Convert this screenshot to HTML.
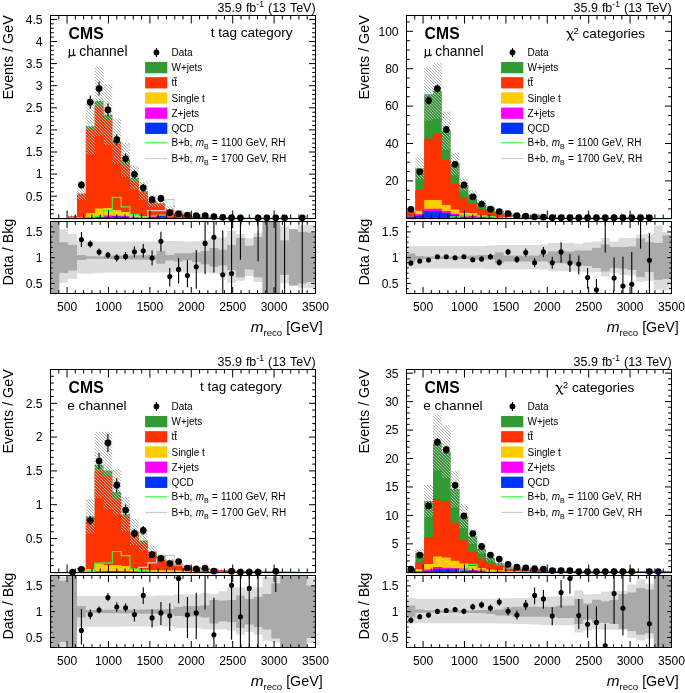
<!DOCTYPE html><html><head><meta charset="utf-8"><style>html,body{margin:0;padding:0;background:#fff;width:685px;height:693px;overflow:hidden}svg{display:block;will-change:transform}</style></head><body>
<svg width="685" height="693" viewBox="0 0 685 693">
<defs><pattern id="hatch" patternUnits="userSpaceOnUse" x="0" y="0" width="3" height="3"><rect x="0" y="0" width="1" height="1" fill="#b4b4b4"/><rect x="1" y="1" width="1" height="1" fill="#b4b4b4"/><rect x="2" y="2" width="1" height="1" fill="#b4b4b4"/></pattern><clipPath id="clipR"><rect x="50.5" y="221.5" width="265" height="72"/></clipPath></defs>
<rect width="685" height="693" fill="#fff"/>
<g transform="translate(0,0)">
<path d="M50.5,218.3 L50.5,218.3 L59.33,218.3 L59.33,218.3 L68.17,218.3 L68.17,216.3 L77,216.3 L77,193.6 L85.83,193.6 L85.83,126.3 L94.67,126.3 L94.67,101.1 L103.5,101.1 L103.5,114.7 L112.33,114.7 L112.33,141 L121.17,141 L121.17,159.9 L130,159.9 L130,177.7 L138.83,177.7 L138.83,190.9 L147.67,190.9 L147.67,201 L156.5,201 L156.5,203.2 L165.33,203.2 L165.33,209.5 L174.17,209.5 L174.17,212.6 L183,212.6 L183,214.7 L191.83,214.7 L191.83,215.9 L200.67,215.9 L200.67,216.7 L209.5,216.7 L209.5,217.1 L218.33,217.1 L218.33,217.4 L227.17,217.4 L227.17,217.6 L236,217.6 L236,217.7 L244.83,217.7 L244.83,217.8 L253.67,217.8 L253.67,217.8 L262.5,217.8 L262.5,217.9 L271.33,217.9 L271.33,217.9 L280.17,217.9 L280.17,217.9 L289,217.9 L289,218.3 L297.83,218.3 L297.83,217.9 L306.67,217.9 L306.67,218.3 L315.5,218.3 L315.5,218.3" fill="#339933"/>
<path d="M50.5,218.3 L50.5,218.3 L59.33,218.3 L59.33,218.3 L68.17,218.3 L68.17,216.3 L77,216.3 L77,194.1 L85.83,194.1 L85.83,130 L94.67,130 L94.67,106.3 L103.5,106.3 L103.5,119 L112.33,119 L112.33,143.4 L121.17,143.4 L121.17,164.7 L130,164.7 L130,181.2 L138.83,181.2 L138.83,192.3 L147.67,192.3 L147.67,201.9 L156.5,201.9 L156.5,204.1 L165.33,204.1 L165.33,209.8 L174.17,209.8 L174.17,212.8 L183,212.8 L183,214.8 L191.83,214.8 L191.83,216 L200.67,216 L200.67,216.8 L209.5,216.8 L209.5,217.2 L218.33,217.2 L218.33,217.5 L227.17,217.5 L227.17,217.7 L236,217.7 L236,217.8 L244.83,217.8 L244.83,217.9 L253.67,217.9 L253.67,217.9 L262.5,217.9 L262.5,218 L271.33,218 L271.33,218 L280.17,218 L280.17,218 L289,218 L289,218.3 L297.83,218.3 L297.83,218 L306.67,218 L306.67,218.3 L315.5,218.3 L315.5,218.3" fill="#ff3300"/>
<path d="M50.5,218.3 L50.5,218.3 L59.33,218.3 L59.33,218.3 L68.17,218.3 L68.17,217.8 L77,217.8 L77,217.6 L85.83,217.6 L85.83,213 L94.67,213 L94.67,208.4 L103.5,208.4 L103.5,207.9 L112.33,207.9 L112.33,209.9 L121.17,209.9 L121.17,212 L130,212 L130,214.5 L138.83,214.5 L138.83,216.1 L147.67,216.1 L147.67,215.5 L156.5,215.5 L156.5,214.6 L165.33,214.6 L165.33,216.8 L174.17,216.8 L174.17,217.3 L183,217.3 L183,217.7 L191.83,217.7 L191.83,217.9 L200.67,217.9 L200.67,218 L209.5,218 L209.5,218 L218.33,218 L218.33,218.1 L227.17,218.1 L227.17,218.1 L236,218.1 L236,218.2 L244.83,218.2 L244.83,218.2 L253.67,218.2 L253.67,218.2 L262.5,218.2 L262.5,218.3 L271.33,218.3 L271.33,218.3 L280.17,218.3 L280.17,218.3 L289,218.3 L289,218.3 L297.83,218.3 L297.83,218.3 L306.67,218.3 L306.67,218.3 L315.5,218.3 L315.5,218.3" fill="#ffcc00"/>
<path d="M50.5,218.3 L50.5,218.3 L59.33,218.3 L59.33,218.3 L68.17,218.3 L68.17,218.3 L77,218.3 L77,217.9 L85.83,217.9 L85.83,217.5 L94.67,217.5 L94.67,216.1 L103.5,216.1 L103.5,215.5 L112.33,215.5 L112.33,215.8 L121.17,215.8 L121.17,216.2 L130,216.2 L130,216.5 L138.83,216.5 L138.83,216.9 L147.67,216.9 L147.67,216.5 L156.5,216.5 L156.5,215.5 L165.33,215.5 L165.33,217.3 L174.17,217.3 L174.17,217.6 L183,217.6 L183,217.9 L191.83,217.9 L191.83,218 L200.67,218 L200.67,218.1 L209.5,218.1 L209.5,218.1 L218.33,218.1 L218.33,218.2 L227.17,218.2 L227.17,218.2 L236,218.2 L236,218.3 L244.83,218.3 L244.83,218.3 L253.67,218.3 L253.67,218.3 L262.5,218.3 L262.5,218.3 L271.33,218.3 L271.33,218.3 L280.17,218.3 L280.17,218.3 L289,218.3 L289,218.3 L297.83,218.3 L297.83,218.3 L306.67,218.3 L306.67,218.3 L315.5,218.3 L315.5,218.3" fill="#ff00ff"/>
<path d="M50.5,218.3 L50.5,218.3 L59.33,218.3 L59.33,218.3 L68.17,218.3 L68.17,218.3 L77,218.3 L77,218 L85.83,218 L85.83,217.8 L94.67,217.8 L94.67,217.6 L103.5,217.6 L103.5,217 L112.33,217 L112.33,216.5 L121.17,216.5 L121.17,216.8 L130,216.8 L130,217 L138.83,217 L138.83,217.3 L147.67,217.3 L147.67,217.2 L156.5,217.2 L156.5,215.9 L165.33,215.9 L165.33,217.5 L174.17,217.5 L174.17,217.8 L183,217.8 L183,218 L191.83,218 L191.83,218.1 L200.67,218.1 L200.67,218.2 L209.5,218.2 L209.5,218.2 L218.33,218.2 L218.33,218.3 L227.17,218.3 L227.17,218.3 L236,218.3 L236,218.3 L244.83,218.3 L244.83,218.3 L253.67,218.3 L253.67,218.3 L262.5,218.3 L262.5,218.3 L271.33,218.3 L271.33,218.3 L280.17,218.3 L280.17,218.3 L289,218.3 L289,218.3 L297.83,218.3 L297.83,218.3 L306.67,218.3 L306.67,218.3 L315.5,218.3 L315.5,218.3" fill="#0033ff"/>
<rect x="68.17" y="214.8" width="8.83" height="3" fill="url(#hatch)"/>
<rect x="77" y="187.3" width="8.83" height="12.6" fill="url(#hatch)"/>
<rect x="85.83" y="98.1" width="8.83" height="56.4" fill="url(#hatch)"/>
<rect x="94.67" y="66.4" width="8.83" height="69.4" fill="url(#hatch)"/>
<rect x="103.5" y="84.2" width="8.83" height="61" fill="url(#hatch)"/>
<rect x="112.33" y="118.4" width="8.83" height="45.2" fill="url(#hatch)"/>
<rect x="121.17" y="143" width="8.83" height="33.8" fill="url(#hatch)"/>
<rect x="130" y="166" width="8.83" height="23.4" fill="url(#hatch)"/>
<rect x="138.83" y="181.9" width="8.83" height="18" fill="url(#hatch)"/>
<rect x="147.67" y="195" width="8.83" height="12" fill="url(#hatch)"/>
<rect x="156.5" y="199.7" width="8.83" height="7" fill="url(#hatch)"/>
<rect x="165.33" y="206" width="8.83" height="7" fill="url(#hatch)"/>
<rect x="174.17" y="210.1" width="8.83" height="5" fill="url(#hatch)"/>
<rect x="183" y="212.7" width="8.83" height="4" fill="url(#hatch)"/>
<rect x="191.83" y="214.4" width="8.83" height="3" fill="url(#hatch)"/>
<rect x="200.67" y="215.5" width="8.83" height="2.4" fill="url(#hatch)"/>
<rect x="209.5" y="216.1" width="8.83" height="2" fill="url(#hatch)"/>
<rect x="218.33" y="216.4" width="8.83" height="1.9" fill="url(#hatch)"/>
<rect x="227.17" y="216.8" width="8.83" height="1.5" fill="url(#hatch)"/>
<rect x="236" y="216.9" width="8.83" height="1.4" fill="url(#hatch)"/>
<rect x="244.83" y="217" width="8.83" height="1.3" fill="url(#hatch)"/>
<rect x="253.67" y="217" width="8.83" height="1.3" fill="url(#hatch)"/>
<rect x="262.5" y="217.1" width="8.83" height="1.2" fill="url(#hatch)"/>
<rect x="271.33" y="217.1" width="8.83" height="1.2" fill="url(#hatch)"/>
<rect x="280.17" y="217.1" width="8.83" height="1.2" fill="url(#hatch)"/>
<rect x="297.83" y="217.1" width="8.83" height="1.2" fill="url(#hatch)"/>
<path d="M50.5,218.3 L50.5,218.6 L59.33,218.6 L59.33,218.6 L68.17,218.6 L68.17,218.6 L77,218.6 L77,218.6 L85.83,218.6 L85.83,218.6 L94.67,218.6 L94.67,218.6 L103.5,218.6 L103.5,218.6 L112.33,218.6 L112.33,218.6 L121.17,218.6 L121.17,218.6 L130,218.6 L130,216.8 L138.83,216.8 L138.83,216.8 L147.67,216.8 L147.67,210.6 L156.5,210.6 L156.5,210.6 L165.33,210.6 L165.33,199.7 L174.17,199.7 L174.17,210.6 L183,210.6 L183,212.8 L191.83,212.8 L191.83,214.5 L200.67,214.5 L200.67,216 L209.5,216 L209.5,217 L218.33,217 L218.33,218.6 L227.17,218.6 L227.17,218.6 L236,218.6 L236,218.6 L244.83,218.6 L244.83,218.6 L253.67,218.6 L253.67,218.6 L262.5,218.6 L262.5,218.6 L271.33,218.6 L271.33,218.6 L280.17,218.6 L280.17,218.6 L289,218.6 L289,218.6 L297.83,218.6 L297.83,218.6 L306.67,218.6 L306.67,218.6 L315.5,218.6 L315.5,218.3" fill="none" stroke="#cccccc" stroke-width="1.2"/>
<path d="M50.5,218.3 L50.5,218.6 L59.33,218.6 L59.33,218.6 L68.17,218.6 L68.17,218.6 L77,218.6 L77,218.6 L85.83,218.6 L85.83,218.6 L94.67,218.6 L94.67,216.4 L103.5,216.4 L103.5,210.4 L112.33,210.4 L112.33,197.4 L121.17,197.4 L121.17,206.9 L130,206.9 L130,214.5 L138.83,214.5 L138.83,217.1 L147.67,217.1 L147.67,218.6 L156.5,218.6 L156.5,218.6 L165.33,218.6 L165.33,218.6 L174.17,218.6 L174.17,218.6 L183,218.6 L183,218.6 L191.83,218.6 L191.83,218.6 L200.67,218.6 L200.67,218.6 L209.5,218.6 L209.5,218.6 L218.33,218.6 L218.33,218.6 L227.17,218.6 L227.17,218.6 L236,218.6 L236,218.6 L244.83,218.6 L244.83,218.6 L253.67,218.6 L253.67,218.6 L262.5,218.6 L262.5,218.6 L271.33,218.6 L271.33,218.6 L280.17,218.6 L280.17,218.6 L289,218.6 L289,218.6 L297.83,218.6 L297.83,218.6 L306.67,218.6 L306.67,218.6 L315.5,218.6 L315.5,218.3" fill="none" stroke="#33ff33" stroke-width="1.2"/>
<line x1="81.42" y1="181.3" x2="81.42" y2="188.5" stroke="#000" stroke-width="1.1"/>
<circle cx="81.42" cy="184.9" r="3.35" fill="#000"/>
<line x1="90.25" y1="95.5" x2="90.25" y2="108.9" stroke="#000" stroke-width="1.1"/>
<circle cx="90.25" cy="102.2" r="3.35" fill="#000"/>
<line x1="99.08" y1="81.5" x2="99.08" y2="95.5" stroke="#000" stroke-width="1.1"/>
<circle cx="99.08" cy="88.5" r="3.35" fill="#000"/>
<line x1="107.92" y1="103.6" x2="107.92" y2="116.2" stroke="#000" stroke-width="1.1"/>
<circle cx="107.92" cy="109.9" r="3.35" fill="#000"/>
<line x1="116.75" y1="134.2" x2="116.75" y2="145.2" stroke="#000" stroke-width="1.1"/>
<circle cx="116.75" cy="139.7" r="3.35" fill="#000"/>
<line x1="125.58" y1="153.6" x2="125.58" y2="163.6" stroke="#000" stroke-width="1.1"/>
<circle cx="125.58" cy="158.6" r="3.35" fill="#000"/>
<line x1="134.42" y1="169.8" x2="134.42" y2="178.8" stroke="#000" stroke-width="1.1"/>
<circle cx="134.42" cy="174.3" r="3.35" fill="#000"/>
<line x1="143.25" y1="183.8" x2="143.25" y2="191.8" stroke="#000" stroke-width="1.1"/>
<circle cx="143.25" cy="187.8" r="3.35" fill="#000"/>
<line x1="152.08" y1="196.1" x2="152.08" y2="203.3" stroke="#000" stroke-width="1.1"/>
<circle cx="152.08" cy="199.7" r="3.35" fill="#000"/>
<line x1="160.92" y1="194.8" x2="160.92" y2="202" stroke="#000" stroke-width="1.1"/>
<circle cx="160.92" cy="198.4" r="3.35" fill="#000"/>
<circle cx="169.75" cy="212.6" r="3.35" fill="#000"/>
<circle cx="178.58" cy="213.9" r="3.35" fill="#000"/>
<circle cx="187.42" cy="215.2" r="3.35" fill="#000"/>
<circle cx="196.25" cy="215.7" r="3.35" fill="#000"/>
<circle cx="205.08" cy="215.5" r="3.35" fill="#000"/>
<circle cx="213.92" cy="216.5" r="3.35" fill="#000"/>
<circle cx="222.75" cy="217.3" r="3.35" fill="#000"/>
<circle cx="231.58" cy="217.7" r="3.35" fill="#000"/>
<circle cx="240.42" cy="217.8" r="3.35" fill="#000"/>
<circle cx="258.08" cy="217.8" r="3.35" fill="#000"/>
<circle cx="266.92" cy="217.8" r="3.35" fill="#000"/>
<circle cx="275.75" cy="217.8" r="3.35" fill="#000"/>
<circle cx="284.58" cy="217.8" r="3.35" fill="#000"/>
<circle cx="302.25" cy="217.8" r="3.35" fill="#000"/>
<g clip-path="url(#clipR)">
<path d="M50.5,221.5 L59.33,221.5 L59.33,229.2 L68.17,229.2 L68.17,234.1 L77,234.1 L77,241.1 L85.83,241.1 L85.83,241.1 L94.67,241.1 L94.67,241.5 L103.5,241.5 L103.5,241.6 L112.33,241.6 L112.33,241.6 L121.17,241.6 L121.17,241.6 L130,241.6 L130,241.6 L138.83,241.6 L138.83,241.6 L147.67,241.6 L147.67,241.6 L156.5,241.6 L156.5,241 L165.33,241 L165.33,241 L174.17,241 L174.17,241 L183,241 L183,241.6 L191.83,241.6 L191.83,241.3 L200.67,241.3 L200.67,239.9 L209.5,239.9 L209.5,237.5 L218.33,237.5 L218.33,237.5 L227.17,237.5 L227.17,231.1 L236,231.1 L236,234 L244.83,234 L244.83,238.1 L253.67,238.1 L253.67,232.8 L262.5,232.8 L262.5,221.5 L271.33,221.5 L271.33,221.5 L280.17,221.5 L280.17,227 L289,227 L289,229.3 L297.83,229.3 L297.83,225.3 L306.67,225.3 L306.67,225.3 L315.5,225.3 L315.5,288.3 L306.67,288.3 L306.67,287.7 L297.83,287.7 L297.83,285.4 L289,285.4 L289,283.6 L280.17,283.6 L280.17,293.5 L271.33,293.5 L271.33,293.5 L262.5,293.5 L262.5,282 L253.67,282 L253.67,276 L244.83,276 L244.83,280.7 L236,280.7 L236,283.1 L227.17,283.1 L227.17,274.9 L218.33,274.9 L218.33,273.5 L209.5,273.5 L209.5,272.6 L200.67,272.6 L200.67,273 L191.83,273 L191.83,272.6 L183,272.6 L183,272.6 L174.17,272.6 L174.17,272.6 L165.33,272.6 L165.33,272.6 L156.5,272.6 L156.5,272.6 L147.67,272.6 L147.67,272.6 L138.83,272.6 L138.83,272.6 L130,272.6 L130,272.6 L121.17,272.6 L121.17,272.6 L112.33,272.6 L112.33,272.6 L103.5,272.6 L103.5,273.1 L94.67,273.1 L94.67,273.6 L85.83,273.6 L85.83,273.6 L77,273.6 L77,279 L68.17,279 L68.17,282.8 L59.33,282.8 L59.33,293.5 L50.5,293.5 Z" fill="#dcdcdc"/>
<path d="M50.5,221.5 L59.33,221.5 L59.33,242.2 L68.17,242.2 L68.17,244.9 L77,244.9 L77,254.9 L85.83,254.9 L85.83,256.3 L94.67,256.3 L94.67,256.5 L103.5,256.5 L103.5,255.8 L112.33,255.8 L112.33,255.6 L121.17,255.6 L121.17,255.6 L130,255.6 L130,255.3 L138.83,255.3 L138.83,255.2 L147.67,255.2 L147.67,255 L156.5,255 L156.5,251 L165.33,251 L165.33,255 L174.17,255 L174.17,253.3 L183,253.3 L183,253.3 L191.83,253.3 L191.83,252.5 L200.67,252.5 L200.67,251 L209.5,251 L209.5,248 L218.33,248 L218.33,249.8 L227.17,249.8 L227.17,245.1 L236,245.1 L236,238.1 L244.83,238.1 L244.83,245.7 L253.67,245.7 L253.67,237 L262.5,237 L262.5,221.5 L271.33,221.5 L271.33,221.5 L280.17,221.5 L280.17,240.4 L289,240.4 L289,229.3 L297.83,229.3 L297.83,231.7 L306.67,231.7 L306.67,232.8 L315.5,232.8 L315.5,281.9 L306.67,281.9 L306.67,283.6 L297.83,283.6 L297.83,285.4 L289,285.4 L289,274.9 L280.17,274.9 L280.17,293.5 L271.33,293.5 L271.33,293.5 L262.5,293.5 L262.5,277.2 L253.67,277.2 L253.67,269.6 L244.83,269.6 L244.83,277.2 L236,277.2 L236,270.2 L227.17,270.2 L227.17,265.5 L218.33,265.5 L218.33,266.7 L209.5,266.7 L209.5,264.4 L200.67,264.4 L200.67,262 L191.83,262 L191.83,260.3 L183,260.3 L183,261.5 L174.17,261.5 L174.17,260.5 L165.33,260.5 L165.33,263.8 L156.5,263.8 L156.5,260 L147.67,260 L147.67,259.8 L138.83,259.8 L138.83,259.5 L130,259.5 L130,259.3 L121.17,259.3 L121.17,259.1 L112.33,259.1 L112.33,259.1 L103.5,259.1 L103.5,258.8 L94.67,258.8 L94.67,258.8 L85.83,258.8 L85.83,259.9 L77,259.9 L77,270.4 L68.17,270.4 L68.17,273.1 L59.33,273.1 L59.33,293.5 L50.5,293.5 Z" fill="#aaaaaa"/>
<line x1="81.42" y1="231.9" x2="81.42" y2="247.1" stroke="#000" stroke-width="1.1"/>
<circle cx="81.42" cy="239.5" r="2.55" fill="#000"/>
<line x1="90.25" y1="240.6" x2="90.25" y2="247.6" stroke="#000" stroke-width="1.1"/>
<circle cx="90.25" cy="244" r="2.55" fill="#000"/>
<line x1="99.08" y1="248.5" x2="99.08" y2="255.5" stroke="#000" stroke-width="1.1"/>
<circle cx="99.08" cy="252" r="2.55" fill="#000"/>
<line x1="107.92" y1="251.8" x2="107.92" y2="258.2" stroke="#000" stroke-width="1.1"/>
<circle cx="107.92" cy="255" r="2.55" fill="#000"/>
<line x1="116.75" y1="253.9" x2="116.75" y2="261.5" stroke="#000" stroke-width="1.1"/>
<circle cx="116.75" cy="257.6" r="2.55" fill="#000"/>
<line x1="125.58" y1="252.1" x2="125.58" y2="260.3" stroke="#000" stroke-width="1.1"/>
<circle cx="125.58" cy="256.4" r="2.55" fill="#000"/>
<line x1="134.42" y1="246.3" x2="134.42" y2="257.4" stroke="#000" stroke-width="1.1"/>
<circle cx="134.42" cy="251.8" r="2.55" fill="#000"/>
<line x1="143.25" y1="243.9" x2="143.25" y2="257.4" stroke="#000" stroke-width="1.1"/>
<circle cx="143.25" cy="250.7" r="2.55" fill="#000"/>
<line x1="152.08" y1="250.6" x2="152.08" y2="265.5" stroke="#000" stroke-width="1.1"/>
<circle cx="152.08" cy="258" r="2.55" fill="#000"/>
<line x1="160.92" y1="231.7" x2="160.92" y2="251.5" stroke="#000" stroke-width="1.1"/>
<circle cx="160.92" cy="241.3" r="2.55" fill="#000"/>
<line x1="169.75" y1="267.9" x2="169.75" y2="286.6" stroke="#000" stroke-width="1.1"/>
<circle cx="169.75" cy="276.6" r="2.55" fill="#000"/>
<line x1="178.58" y1="258" x2="178.58" y2="283.6" stroke="#000" stroke-width="1.1"/>
<circle cx="178.58" cy="269.4" r="2.55" fill="#000"/>
<line x1="187.42" y1="259.7" x2="187.42" y2="287.2" stroke="#000" stroke-width="1.1"/>
<circle cx="187.42" cy="275.5" r="2.55" fill="#000"/>
<line x1="196.25" y1="250.1" x2="196.25" y2="288.7" stroke="#000" stroke-width="1.1"/>
<circle cx="196.25" cy="266.7" r="2.55" fill="#000"/>
<line x1="205.08" y1="221.5" x2="205.08" y2="274.3" stroke="#000" stroke-width="1.1"/>
<circle cx="205.08" cy="243.4" r="2.55" fill="#000"/>
<line x1="213.92" y1="221.5" x2="213.92" y2="272.6" stroke="#000" stroke-width="1.1"/>
<circle cx="213.92" cy="237.3" r="2.55" fill="#000"/>
<line x1="222.75" y1="230.5" x2="222.75" y2="293.5" stroke="#000" stroke-width="1.1"/>
<circle cx="222.75" cy="274.7" r="2.55" fill="#000"/>
<line x1="231.58" y1="221.5" x2="231.58" y2="293.5" stroke="#000" stroke-width="1.1"/>
<circle cx="231.58" cy="273.5" r="2.55" fill="#000"/>
<line x1="240.42" y1="221.5" x2="240.42" y2="259.7" stroke="#000" stroke-width="1.1"/>
<line x1="258.08" y1="221.5" x2="258.08" y2="261.5" stroke="#000" stroke-width="1.1"/>
<line x1="266.92" y1="221.5" x2="266.92" y2="293.5" stroke="#000" stroke-width="1.1"/>
<line x1="275.75" y1="221.5" x2="275.75" y2="293.5" stroke="#000" stroke-width="1.1"/>
<line x1="284.58" y1="221.5" x2="284.58" y2="293.5" stroke="#000" stroke-width="1.1"/>
<line x1="302.25" y1="221.5" x2="302.25" y2="293.5" stroke="#000" stroke-width="1.1"/>
</g>
<rect x="50.5" y="15.5" width="265" height="203" stroke="#000" stroke-width="1" fill="none"/>
<rect x="50.5" y="221.5" width="265" height="72" stroke="#000" stroke-width="1" fill="none"/>
<path d="M58.78,218.5 v-4 M58.78,15.5 v4 M58.78,293.5 v-3.3 M58.78,221.5 v3.3 M67.06,218.5 v-8 M67.06,15.5 v8 M67.06,293.5 v-6.5 M67.06,221.5 v6.5 M75.34,218.5 v-4 M75.34,15.5 v4 M75.34,293.5 v-3.3 M75.34,221.5 v3.3 M83.62,218.5 v-4 M83.62,15.5 v4 M83.62,293.5 v-3.3 M83.62,221.5 v3.3 M91.91,218.5 v-4 M91.91,15.5 v4 M91.91,293.5 v-3.3 M91.91,221.5 v3.3 M100.19,218.5 v-4 M100.19,15.5 v4 M100.19,293.5 v-3.3 M100.19,221.5 v3.3 M108.47,218.5 v-8 M108.47,15.5 v8 M108.47,293.5 v-6.5 M108.47,221.5 v6.5 M116.75,218.5 v-4 M116.75,15.5 v4 M116.75,293.5 v-3.3 M116.75,221.5 v3.3 M125.03,218.5 v-4 M125.03,15.5 v4 M125.03,293.5 v-3.3 M125.03,221.5 v3.3 M133.31,218.5 v-4 M133.31,15.5 v4 M133.31,293.5 v-3.3 M133.31,221.5 v3.3 M141.59,218.5 v-4 M141.59,15.5 v4 M141.59,293.5 v-3.3 M141.59,221.5 v3.3 M149.88,218.5 v-8 M149.88,15.5 v8 M149.88,293.5 v-6.5 M149.88,221.5 v6.5 M158.16,218.5 v-4 M158.16,15.5 v4 M158.16,293.5 v-3.3 M158.16,221.5 v3.3 M166.44,218.5 v-4 M166.44,15.5 v4 M166.44,293.5 v-3.3 M166.44,221.5 v3.3 M174.72,218.5 v-4 M174.72,15.5 v4 M174.72,293.5 v-3.3 M174.72,221.5 v3.3 M183,218.5 v-4 M183,15.5 v4 M183,293.5 v-3.3 M183,221.5 v3.3 M191.28,218.5 v-8 M191.28,15.5 v8 M191.28,293.5 v-6.5 M191.28,221.5 v6.5 M199.56,218.5 v-4 M199.56,15.5 v4 M199.56,293.5 v-3.3 M199.56,221.5 v3.3 M207.84,218.5 v-4 M207.84,15.5 v4 M207.84,293.5 v-3.3 M207.84,221.5 v3.3 M216.12,218.5 v-4 M216.12,15.5 v4 M216.12,293.5 v-3.3 M216.12,221.5 v3.3 M224.41,218.5 v-4 M224.41,15.5 v4 M224.41,293.5 v-3.3 M224.41,221.5 v3.3 M232.69,218.5 v-8 M232.69,15.5 v8 M232.69,293.5 v-6.5 M232.69,221.5 v6.5 M240.97,218.5 v-4 M240.97,15.5 v4 M240.97,293.5 v-3.3 M240.97,221.5 v3.3 M249.25,218.5 v-4 M249.25,15.5 v4 M249.25,293.5 v-3.3 M249.25,221.5 v3.3 M257.53,218.5 v-4 M257.53,15.5 v4 M257.53,293.5 v-3.3 M257.53,221.5 v3.3 M265.81,218.5 v-4 M265.81,15.5 v4 M265.81,293.5 v-3.3 M265.81,221.5 v3.3 M274.09,218.5 v-8 M274.09,15.5 v8 M274.09,293.5 v-6.5 M274.09,221.5 v6.5 M282.38,218.5 v-4 M282.38,15.5 v4 M282.38,293.5 v-3.3 M282.38,221.5 v3.3 M290.66,218.5 v-4 M290.66,15.5 v4 M290.66,293.5 v-3.3 M290.66,221.5 v3.3 M298.94,218.5 v-4 M298.94,15.5 v4 M298.94,293.5 v-3.3 M298.94,221.5 v3.3 M307.22,218.5 v-4 M307.22,15.5 v4 M307.22,293.5 v-3.3 M307.22,221.5 v3.3 M50.5,213.88 h3.3 M315.5,213.88 h-3.3 M50.5,209.46 h3.3 M315.5,209.46 h-3.3 M50.5,205.04 h3.3 M315.5,205.04 h-3.3 M50.5,200.62 h3.3 M315.5,200.62 h-3.3 M50.5,196.2 h6.5 M315.5,196.2 h-6.5 M50.5,191.78 h3.3 M315.5,191.78 h-3.3 M50.5,187.36 h3.3 M315.5,187.36 h-3.3 M50.5,182.94 h3.3 M315.5,182.94 h-3.3 M50.5,178.52 h3.3 M315.5,178.52 h-3.3 M50.5,174.1 h6.5 M315.5,174.1 h-6.5 M50.5,169.68 h3.3 M315.5,169.68 h-3.3 M50.5,165.26 h3.3 M315.5,165.26 h-3.3 M50.5,160.84 h3.3 M315.5,160.84 h-3.3 M50.5,156.42 h3.3 M315.5,156.42 h-3.3 M50.5,152 h6.5 M315.5,152 h-6.5 M50.5,147.58 h3.3 M315.5,147.58 h-3.3 M50.5,143.16 h3.3 M315.5,143.16 h-3.3 M50.5,138.74 h3.3 M315.5,138.74 h-3.3 M50.5,134.32 h3.3 M315.5,134.32 h-3.3 M50.5,129.9 h6.5 M315.5,129.9 h-6.5 M50.5,125.48 h3.3 M315.5,125.48 h-3.3 M50.5,121.06 h3.3 M315.5,121.06 h-3.3 M50.5,116.64 h3.3 M315.5,116.64 h-3.3 M50.5,112.22 h3.3 M315.5,112.22 h-3.3 M50.5,107.8 h6.5 M315.5,107.8 h-6.5 M50.5,103.38 h3.3 M315.5,103.38 h-3.3 M50.5,98.96 h3.3 M315.5,98.96 h-3.3 M50.5,94.54 h3.3 M315.5,94.54 h-3.3 M50.5,90.12 h3.3 M315.5,90.12 h-3.3 M50.5,85.7 h6.5 M315.5,85.7 h-6.5 M50.5,81.28 h3.3 M315.5,81.28 h-3.3 M50.5,76.86 h3.3 M315.5,76.86 h-3.3 M50.5,72.44 h3.3 M315.5,72.44 h-3.3 M50.5,68.02 h3.3 M315.5,68.02 h-3.3 M50.5,63.6 h6.5 M315.5,63.6 h-6.5 M50.5,59.18 h3.3 M315.5,59.18 h-3.3 M50.5,54.76 h3.3 M315.5,54.76 h-3.3 M50.5,50.34 h3.3 M315.5,50.34 h-3.3 M50.5,45.92 h3.3 M315.5,45.92 h-3.3 M50.5,41.5 h6.5 M315.5,41.5 h-6.5 M50.5,37.08 h3.3 M315.5,37.08 h-3.3 M50.5,32.66 h3.3 M315.5,32.66 h-3.3 M50.5,28.24 h3.3 M315.5,28.24 h-3.3 M50.5,23.82 h3.3 M315.5,23.82 h-3.3 M50.5,19.4 h6.5 M315.5,19.4 h-6.5 M50.5,288.55 h2.2 M315.5,288.55 h-2.2 M50.5,283.4 h4.3 M315.5,283.4 h-4.3 M50.5,278.25 h2.2 M315.5,278.25 h-2.2 M50.5,273.1 h2.2 M315.5,273.1 h-2.2 M50.5,267.95 h2.2 M315.5,267.95 h-2.2 M50.5,262.8 h2.2 M315.5,262.8 h-2.2 M50.5,257.65 h4.3 M315.5,257.65 h-4.3 M50.5,252.5 h2.2 M315.5,252.5 h-2.2 M50.5,247.35 h2.2 M315.5,247.35 h-2.2 M50.5,242.2 h2.2 M315.5,242.2 h-2.2 M50.5,237.05 h2.2 M315.5,237.05 h-2.2 M50.5,231.9 h4.3 M315.5,231.9 h-4.3 M50.5,226.75 h2.2 M315.5,226.75 h-2.2" stroke="#000" stroke-width="1" fill="none"/>
<text x="67.06" y="311" font-size="12.1" text-anchor="middle" font-family="Liberation Sans, sans-serif">500</text>
<text x="108.47" y="311" font-size="12.1" text-anchor="middle" font-family="Liberation Sans, sans-serif">1000</text>
<text x="149.88" y="311" font-size="12.1" text-anchor="middle" font-family="Liberation Sans, sans-serif">1500</text>
<text x="191.28" y="311" font-size="12.1" text-anchor="middle" font-family="Liberation Sans, sans-serif">2000</text>
<text x="232.69" y="311" font-size="12.1" text-anchor="middle" font-family="Liberation Sans, sans-serif">2500</text>
<text x="274.09" y="311" font-size="12.1" text-anchor="middle" font-family="Liberation Sans, sans-serif">3000</text>
<text x="315.5" y="311" font-size="12.1" text-anchor="middle" font-family="Liberation Sans, sans-serif">3500</text>
<text x="42.6" y="200.55" font-size="12.1" text-anchor="end" font-family="Liberation Sans, sans-serif">0.5</text>
<text x="42.6" y="178.45" font-size="12.1" text-anchor="end" font-family="Liberation Sans, sans-serif">1</text>
<text x="42.6" y="156.35" font-size="12.1" text-anchor="end" font-family="Liberation Sans, sans-serif">1.5</text>
<text x="42.6" y="134.25" font-size="12.1" text-anchor="end" font-family="Liberation Sans, sans-serif">2</text>
<text x="42.6" y="112.15" font-size="12.1" text-anchor="end" font-family="Liberation Sans, sans-serif">2.5</text>
<text x="42.6" y="90.05" font-size="12.1" text-anchor="end" font-family="Liberation Sans, sans-serif">3</text>
<text x="42.6" y="67.95" font-size="12.1" text-anchor="end" font-family="Liberation Sans, sans-serif">3.5</text>
<text x="42.6" y="45.85" font-size="12.1" text-anchor="end" font-family="Liberation Sans, sans-serif">4</text>
<text x="42.6" y="23.75" font-size="12.1" text-anchor="end" font-family="Liberation Sans, sans-serif">4.5</text>
<text x="42.6" y="287.75" font-size="12.1" text-anchor="end" font-family="Liberation Sans, sans-serif">0.5</text>
<text x="42.6" y="262" font-size="12.1" text-anchor="end" font-family="Liberation Sans, sans-serif">1</text>
<text x="42.6" y="236.25" font-size="12.1" text-anchor="end" font-family="Liberation Sans, sans-serif">1.5</text>
<text transform="translate(13,15.3) rotate(-90)" font-size="14.3" text-anchor="end" font-family="Liberation Sans, sans-serif">Events / GeV</text>
<text transform="translate(13,218.7) rotate(-90)" font-size="14.3" text-anchor="end" font-family="Liberation Sans, sans-serif">Data / Bkg</text>
<text x="322.7" y="332" font-size="14.3" text-anchor="end" font-family="Liberation Sans, sans-serif"><tspan font-style="italic" font-size="15.4">m</tspan><tspan font-size="9.6" dy="3.5">reco</tspan><tspan dy="-3.5"> [GeV]</tspan></text>
<text x="315.6" y="12.1" font-size="12.5" word-spacing="0.6" text-anchor="end" font-family="Liberation Sans, sans-serif">35.9 fb<tspan font-size="8.5" dy="-4.8">-1</tspan><tspan dy="4.8"> (13 TeV)</tspan></text>
<text x="68.4" y="39.2" font-size="15.7" letter-spacing="0.25" font-weight="bold" font-family="Liberation Sans, sans-serif">CMS</text>
<path d="M69.4,48.9 V54.5 Q69.5,55.8 71.1,55.8 Q72.7,55.8 73.5,54.3 M73.5,48.9 V54.6 Q73.6,55.8 74.5,55.6 Q75.1,55.4 75.6,54.6 M69.4,54.4 Q69.3,56.6 68.7,57.9" fill="none" stroke="#000" stroke-width="1.15"/>
<text x="79.3" y="55.5" font-size="13.75" font-family="Liberation Sans, sans-serif">channel</text>
<text x="210.8" y="36.8" font-size="13.5" font-family="Liberation Sans, sans-serif">t tag category</text>
<line x1="156.45" y1="47.9" x2="156.45" y2="57.1" stroke="#000" stroke-width="1.1"/>
<circle cx="156.45" cy="52.4" r="2.85" fill="#000"/>
<rect x="145.1" y="61.95" width="22.2" height="11.3" fill="#339933"/>
<rect x="145.1" y="77.15" width="22.2" height="11.3" fill="#ff3300"/>
<rect x="145.1" y="92.35" width="22.2" height="11.3" fill="#ffcc00"/>
<rect x="145.1" y="107.55" width="22.2" height="11.3" fill="#ff00ff"/>
<rect x="145.1" y="122.65" width="22.2" height="11.3" fill="#0033ff"/>
<line x1="145.1" y1="142.8" x2="167.3" y2="142.8" stroke="#33ff33" stroke-width="1.2"/>
<line x1="145.1" y1="158.5" x2="167.3" y2="158.5" stroke="#cccccc" stroke-width="1.2"/>
<text x="171.5" y="55.5" font-size="10.0" font-family="Liberation Sans, sans-serif">Data</text>
<text x="171.5" y="71.1" font-size="10.0" font-family="Liberation Sans, sans-serif">W+jets</text>
<text x="171.5" y="86.3" font-size="10.0" font-family="Liberation Sans, sans-serif">tt</text>
<text x="171.5" y="101.5" font-size="10.0" font-family="Liberation Sans, sans-serif">Single t</text>
<text x="171.5" y="116.7" font-size="10.0" font-family="Liberation Sans, sans-serif">Z+jets</text>
<text x="171.5" y="131.8" font-size="10.0" font-family="Liberation Sans, sans-serif">QCD</text>
<line x1="173.9" y1="77.8" x2="176.9" y2="77.8" stroke="#000" stroke-width="0.9"/>
<text x="171.5" y="146.2" font-size="10.0" word-spacing="0.5" font-family="Liberation Sans, sans-serif">B+b, <tspan font-style="italic">m</tspan><tspan font-size="7" dy="2.8">B</tspan><tspan dy="-2.8"> = 1100 GeV, RH</tspan></text>
<text x="171.5" y="161.9" font-size="10.0" word-spacing="0.5" font-family="Liberation Sans, sans-serif">B+b, <tspan font-style="italic">m</tspan><tspan font-size="7" dy="2.8">B</tspan><tspan dy="-2.8"> = 1700 GeV, RH</tspan></text>
</g>
<g transform="translate(356,0)">
<path d="M50.5,218.3 L50.5,211 L59.33,211 L59.33,168.2 L68.17,168.2 L68.17,94.2 L77,94.2 L77,91 L85.83,91 L85.83,130.6 L94.67,130.6 L94.67,164 L103.5,164 L103.5,184.9 L112.33,184.9 L112.33,195 L121.17,195 L121.17,203 L130,203 L130,207.5 L138.83,207.5 L138.83,211 L147.67,211 L147.67,213.3 L156.5,213.3 L156.5,215 L165.33,215 L165.33,216 L174.17,216 L174.17,216.7 L183,216.7 L183,217.1 L191.83,217.1 L191.83,217.6 L200.67,217.6 L200.67,217.6 L209.5,217.6 L209.5,217.6 L218.33,217.6 L218.33,217.6 L227.17,217.6 L227.17,217.6 L236,217.6 L236,217.6 L244.83,217.6 L244.83,217.6 L253.67,217.6 L253.67,217.6 L262.5,217.6 L262.5,217.6 L271.33,217.6 L271.33,217.6 L280.17,217.6 L280.17,217.6 L289,217.6 L289,217.6 L297.83,217.6 L297.83,218 L306.67,218 L306.67,218 L315.5,218 L315.5,218.3" fill="#339933"/>
<path d="M50.5,218.3 L50.5,211.5 L59.33,211.5 L59.33,189.9 L68.17,189.9 L68.17,138.8 L77,138.8 L77,133 L85.83,133 L85.83,159.7 L94.67,159.7 L94.67,183.5 L103.5,183.5 L103.5,197.9 L112.33,197.9 L112.33,203.7 L121.17,203.7 L121.17,208.9 L130,208.9 L130,211.5 L138.83,211.5 L138.83,214 L147.67,214 L147.67,215.5 L156.5,215.5 L156.5,216.5 L165.33,216.5 L165.33,217 L174.17,217 L174.17,217.3 L183,217.3 L183,217.6 L191.83,217.6 L191.83,217.9 L200.67,217.9 L200.67,217.9 L209.5,217.9 L209.5,217.9 L218.33,217.9 L218.33,217.9 L227.17,217.9 L227.17,217.9 L236,217.9 L236,217.9 L244.83,217.9 L244.83,217.9 L253.67,217.9 L253.67,217.9 L262.5,217.9 L262.5,217.9 L271.33,217.9 L271.33,217.9 L280.17,217.9 L280.17,217.9 L289,217.9 L289,217.9 L297.83,217.9 L297.83,218.1 L306.67,218.1 L306.67,218.1 L315.5,218.1 L315.5,218.3" fill="#ff3300"/>
<path d="M50.5,218.3 L50.5,216.5 L59.33,216.5 L59.33,210.7 L68.17,210.7 L68.17,200 L77,200 L77,200 L85.83,200 L85.83,205.1 L94.67,205.1 L94.67,209.4 L103.5,209.4 L103.5,212.8 L112.33,212.8 L112.33,213 L121.17,213 L121.17,215.5 L130,215.5 L130,217 L138.83,217 L138.83,217.4 L147.67,217.4 L147.67,217.7 L156.5,217.7 L156.5,217.9 L165.33,217.9 L165.33,218 L174.17,218 L174.17,218.1 L183,218.1 L183,218.1 L191.83,218.1 L191.83,218.2 L200.67,218.2 L200.67,218.2 L209.5,218.2 L209.5,218.2 L218.33,218.2 L218.33,218.2 L227.17,218.2 L227.17,218.2 L236,218.2 L236,218.2 L244.83,218.2 L244.83,218.2 L253.67,218.2 L253.67,218.2 L262.5,218.2 L262.5,218.2 L271.33,218.2 L271.33,218.2 L280.17,218.2 L280.17,218.2 L289,218.2 L289,218.2 L297.83,218.2 L297.83,218.3 L306.67,218.3 L306.67,218.3 L315.5,218.3 L315.5,218.3" fill="#ffcc00"/>
<path d="M50.5,218.3 L50.5,216.6 L59.33,216.6 L59.33,214.2 L68.17,214.2 L68.17,208.7 L77,208.7 L77,208.7 L85.83,208.7 L85.83,210.9 L94.67,210.9 L94.67,213.8 L103.5,213.8 L103.5,215.3 L112.33,215.3 L112.33,215.6 L121.17,215.6 L121.17,216.8 L130,216.8 L130,217.5 L138.83,217.5 L138.83,217.8 L147.67,217.8 L147.67,218 L156.5,218 L156.5,218.1 L165.33,218.1 L165.33,218.1 L174.17,218.1 L174.17,218.2 L183,218.2 L183,218.2 L191.83,218.2 L191.83,218.3 L200.67,218.3 L200.67,218.3 L209.5,218.3 L209.5,218.3 L218.33,218.3 L218.33,218.3 L227.17,218.3 L227.17,218.3 L236,218.3 L236,218.3 L244.83,218.3 L244.83,218.3 L253.67,218.3 L253.67,218.3 L262.5,218.3 L262.5,218.3 L271.33,218.3 L271.33,218.3 L280.17,218.3 L280.17,218.3 L289,218.3 L289,218.3 L297.83,218.3 L297.83,218.3 L306.67,218.3 L306.67,218.3 L315.5,218.3 L315.5,218.3" fill="#ff00ff"/>
<path d="M50.5,218.3 L50.5,216.8 L59.33,216.8 L59.33,215.7 L68.17,215.7 L68.17,210.9 L77,210.9 L77,210.9 L85.83,210.9 L85.83,213 L94.67,213 L94.67,215.2 L103.5,215.2 L103.5,217.3 L112.33,217.3 L112.33,217.4 L121.17,217.4 L121.17,217.6 L130,217.6 L130,217.8 L138.83,217.8 L138.83,218 L147.67,218 L147.67,218.1 L156.5,218.1 L156.5,218.2 L165.33,218.2 L165.33,218.2 L174.17,218.2 L174.17,218.2 L183,218.2 L183,218.3 L191.83,218.3 L191.83,218.3 L200.67,218.3 L200.67,218.3 L209.5,218.3 L209.5,218.3 L218.33,218.3 L218.33,218.3 L227.17,218.3 L227.17,218.3 L236,218.3 L236,218.3 L244.83,218.3 L244.83,218.3 L253.67,218.3 L253.67,218.3 L262.5,218.3 L262.5,218.3 L271.33,218.3 L271.33,218.3 L280.17,218.3 L280.17,218.3 L289,218.3 L289,218.3 L297.83,218.3 L297.83,218.3 L306.67,218.3 L306.67,218.3 L315.5,218.3 L315.5,218.3" fill="#0033ff"/>
<rect x="50.5" y="209.5" width="8.83" height="3" fill="url(#hatch)"/>
<rect x="59.33" y="157.4" width="8.83" height="21.6" fill="url(#hatch)"/>
<rect x="68.17" y="67.7" width="8.83" height="53" fill="url(#hatch)"/>
<rect x="77" y="63.1" width="8.83" height="55.8" fill="url(#hatch)"/>
<rect x="85.83" y="111.5" width="8.83" height="38.2" fill="url(#hatch)"/>
<rect x="94.67" y="152.5" width="8.83" height="23" fill="url(#hatch)"/>
<rect x="103.5" y="178.4" width="8.83" height="13" fill="url(#hatch)"/>
<rect x="112.33" y="190.7" width="8.83" height="8.6" fill="url(#hatch)"/>
<rect x="121.17" y="200" width="8.83" height="6" fill="url(#hatch)"/>
<rect x="130" y="205.5" width="8.83" height="4" fill="url(#hatch)"/>
<rect x="138.83" y="209.5" width="8.83" height="3" fill="url(#hatch)"/>
<rect x="147.67" y="212.1" width="8.83" height="2.4" fill="url(#hatch)"/>
<rect x="156.5" y="214" width="8.83" height="2" fill="url(#hatch)"/>
<rect x="165.33" y="215.2" width="8.83" height="1.6" fill="url(#hatch)"/>
<rect x="174.17" y="216.1" width="8.83" height="1.2" fill="url(#hatch)"/>
<rect x="183" y="216.6" width="8.83" height="1" fill="url(#hatch)"/>
<rect x="191.83" y="217.2" width="8.83" height="0.8" fill="url(#hatch)"/>
<rect x="200.67" y="217.2" width="8.83" height="0.8" fill="url(#hatch)"/>
<rect x="209.5" y="217.2" width="8.83" height="0.8" fill="url(#hatch)"/>
<rect x="218.33" y="217.2" width="8.83" height="0.8" fill="url(#hatch)"/>
<rect x="227.17" y="217.2" width="8.83" height="0.8" fill="url(#hatch)"/>
<rect x="236" y="217.2" width="8.83" height="0.8" fill="url(#hatch)"/>
<rect x="244.83" y="217.2" width="8.83" height="0.8" fill="url(#hatch)"/>
<rect x="253.67" y="217.2" width="8.83" height="0.8" fill="url(#hatch)"/>
<rect x="262.5" y="217.2" width="8.83" height="0.8" fill="url(#hatch)"/>
<rect x="271.33" y="217.2" width="8.83" height="0.8" fill="url(#hatch)"/>
<rect x="280.17" y="217.2" width="8.83" height="0.8" fill="url(#hatch)"/>
<rect x="289" y="217.2" width="8.83" height="0.8" fill="url(#hatch)"/>
<path d="M50.5,218.3 L50.5,218.6 L59.33,218.6 L59.33,218.6 L68.17,218.6 L68.17,218.6 L77,218.6 L77,218.6 L85.83,218.6 L85.83,218.6 L94.67,218.6 L94.67,218.6 L103.5,218.6 L103.5,218.6 L112.33,218.6 L112.33,218.6 L121.17,218.6 L121.17,218.6 L130,218.6 L130,218.6 L138.83,218.6 L138.83,218.6 L147.67,218.6 L147.67,217.6 L156.5,217.6 L156.5,217 L165.33,217 L165.33,216.8 L174.17,216.8 L174.17,217.3 L183,217.3 L183,218.6 L191.83,218.6 L191.83,218.6 L200.67,218.6 L200.67,218.6 L209.5,218.6 L209.5,218.6 L218.33,218.6 L218.33,218.6 L227.17,218.6 L227.17,218.6 L236,218.6 L236,218.6 L244.83,218.6 L244.83,218.6 L253.67,218.6 L253.67,218.6 L262.5,218.6 L262.5,218.6 L271.33,218.6 L271.33,218.6 L280.17,218.6 L280.17,218.6 L289,218.6 L289,218.6 L297.83,218.6 L297.83,218.6 L306.67,218.6 L306.67,218.6 L315.5,218.6 L315.5,218.3" fill="none" stroke="#cccccc" stroke-width="1.2"/>
<path d="M50.5,218.3 L50.5,218.6 L59.33,218.6 L59.33,218.6 L68.17,218.6 L68.17,218.6 L77,218.6 L77,218.6 L85.83,218.6 L85.83,218.6 L94.67,218.6 L94.67,216.8 L103.5,216.8 L103.5,215.8 L112.33,215.8 L112.33,215.3 L121.17,215.3 L121.17,215.8 L130,215.8 L130,216.5 L138.83,216.5 L138.83,218.6 L147.67,218.6 L147.67,218.6 L156.5,218.6 L156.5,218.6 L165.33,218.6 L165.33,218.6 L174.17,218.6 L174.17,218.6 L183,218.6 L183,218.6 L191.83,218.6 L191.83,218.6 L200.67,218.6 L200.67,218.6 L209.5,218.6 L209.5,218.6 L218.33,218.6 L218.33,218.6 L227.17,218.6 L227.17,218.6 L236,218.6 L236,218.6 L244.83,218.6 L244.83,218.6 L253.67,218.6 L253.67,218.6 L262.5,218.6 L262.5,218.6 L271.33,218.6 L271.33,218.6 L280.17,218.6 L280.17,218.6 L289,218.6 L289,218.6 L297.83,218.6 L297.83,218.6 L306.67,218.6 L306.67,218.6 L315.5,218.6 L315.5,218.3" fill="none" stroke="#33ff33" stroke-width="1.2"/>
<circle cx="54.92" cy="209.3" r="3.35" fill="#000"/>
<circle cx="63.75" cy="171.8" r="3.35" fill="#000"/>
<line x1="72.58" y1="96.6" x2="72.58" y2="104.6" stroke="#000" stroke-width="1.1"/>
<circle cx="72.58" cy="100.6" r="3.35" fill="#000"/>
<line x1="81.42" y1="84.5" x2="81.42" y2="92.5" stroke="#000" stroke-width="1.1"/>
<circle cx="81.42" cy="88.5" r="3.35" fill="#000"/>
<line x1="90.25" y1="125.9" x2="90.25" y2="132.9" stroke="#000" stroke-width="1.1"/>
<circle cx="90.25" cy="129.4" r="3.35" fill="#000"/>
<circle cx="99.08" cy="164.3" r="3.35" fill="#000"/>
<circle cx="107.92" cy="184.9" r="3.35" fill="#000"/>
<circle cx="116.75" cy="196.8" r="3.35" fill="#000"/>
<circle cx="125.58" cy="204" r="3.35" fill="#000"/>
<circle cx="134.42" cy="209.2" r="3.35" fill="#000"/>
<circle cx="143.25" cy="211.5" r="3.35" fill="#000"/>
<circle cx="152.08" cy="213.5" r="3.35" fill="#000"/>
<circle cx="160.92" cy="215.5" r="3.35" fill="#000"/>
<circle cx="169.75" cy="216.1" r="3.35" fill="#000"/>
<circle cx="178.58" cy="216.8" r="3.35" fill="#000"/>
<circle cx="187.42" cy="217.2" r="3.35" fill="#000"/>
<circle cx="196.25" cy="217.7" r="3.35" fill="#000"/>
<circle cx="205.08" cy="217.7" r="3.35" fill="#000"/>
<circle cx="213.92" cy="217.7" r="3.35" fill="#000"/>
<circle cx="222.75" cy="217.7" r="3.35" fill="#000"/>
<circle cx="231.58" cy="217.7" r="3.35" fill="#000"/>
<circle cx="240.42" cy="217.7" r="3.35" fill="#000"/>
<circle cx="249.25" cy="217.7" r="3.35" fill="#000"/>
<circle cx="258.08" cy="217.7" r="3.35" fill="#000"/>
<circle cx="266.92" cy="217.7" r="3.35" fill="#000"/>
<circle cx="275.75" cy="217.7" r="3.35" fill="#000"/>
<circle cx="284.58" cy="217.7" r="3.35" fill="#000"/>
<circle cx="293.42" cy="217.7" r="3.35" fill="#000"/>
<g clip-path="url(#clipR)">
<path d="M50.5,245.9 L59.33,245.9 L59.33,245.9 L68.17,245.9 L68.17,245.9 L77,245.9 L77,245.9 L85.83,245.9 L85.83,245.9 L94.67,245.9 L94.67,245.9 L103.5,245.9 L103.5,245.9 L112.33,245.9 L112.33,245.9 L121.17,245.9 L121.17,245.9 L130,245.9 L130,245.5 L138.83,245.5 L138.83,245 L147.67,245 L147.67,245 L156.5,245 L156.5,245 L165.33,245 L165.33,245 L174.17,245 L174.17,245 L183,245 L183,244.5 L191.83,244.5 L191.83,243 L200.67,243 L200.67,243 L209.5,243 L209.5,243 L218.33,243 L218.33,243.7 L227.17,243.7 L227.17,242.3 L236,242.3 L236,241.6 L244.83,241.6 L244.83,238.1 L253.67,238.1 L253.67,241.6 L262.5,241.6 L262.5,238.1 L271.33,238.1 L271.33,238.1 L280.17,238.1 L280.17,234.4 L289,234.4 L289,234 L297.83,234 L297.83,225.6 L306.67,225.6 L306.67,231.9 L315.5,231.9 L315.5,290.1 L306.67,290.1 L306.67,289.4 L297.83,289.4 L297.83,281 L289,281 L289,281.8 L280.17,281.8 L280.17,275.6 L271.33,275.6 L271.33,274.9 L262.5,274.9 L262.5,272.8 L253.67,272.8 L253.67,276.3 L244.83,276.3 L244.83,272.1 L236,272.1 L236,272.1 L227.17,272.1 L227.17,271.4 L218.33,271.4 L218.33,271.2 L209.5,271.2 L209.5,271.2 L200.67,271.2 L200.67,271.2 L191.83,271.2 L191.83,269.5 L183,269.5 L183,269.2 L174.17,269.2 L174.17,269.2 L165.33,269.2 L165.33,269.2 L156.5,269.2 L156.5,269.2 L147.67,269.2 L147.67,269.2 L138.83,269.2 L138.83,269 L130,269 L130,268.6 L121.17,268.6 L121.17,268.6 L112.33,268.6 L112.33,268.6 L103.5,268.6 L103.5,268.6 L94.67,268.6 L94.67,268.6 L85.83,268.6 L85.83,268.6 L77,268.6 L77,268.6 L68.17,268.6 L68.17,268.6 L59.33,268.6 L59.33,268.6 L50.5,268.6 Z" fill="#dcdcdc"/>
<path d="M50.5,253.5 L59.33,253.5 L59.33,256.1 L68.17,256.1 L68.17,256.5 L77,256.5 L77,256.5 L85.83,256.5 L85.83,256.5 L94.67,256.5 L94.67,256.5 L103.5,256.5 L103.5,256.5 L112.33,256.5 L112.33,255.5 L121.17,255.5 L121.17,255 L130,255 L130,255 L138.83,255 L138.83,252.4 L147.67,252.4 L147.67,255.5 L156.5,255.5 L156.5,255.5 L165.33,255.5 L165.33,255.5 L174.17,255.5 L174.17,255.5 L183,255.5 L183,254.1 L191.83,254.1 L191.83,251.5 L200.67,251.5 L200.67,250.9 L209.5,250.9 L209.5,251.5 L218.33,251.5 L218.33,250.6 L227.17,250.6 L227.17,250.6 L236,250.6 L236,247.8 L244.83,247.8 L244.83,244.4 L253.67,244.4 L253.67,247.1 L262.5,247.1 L262.5,247.1 L271.33,247.1 L271.33,246.4 L280.17,246.4 L280.17,238.5 L289,238.5 L289,242 L297.83,242 L297.83,243 L306.67,243 L306.67,235.3 L315.5,235.3 L315.5,279 L306.67,279 L306.67,279.7 L297.83,279.7 L297.83,272 L289,272 L289,277 L280.17,277 L280.17,270 L271.33,270 L271.33,268.6 L262.5,268.6 L262.5,268 L253.67,268 L253.67,271.4 L244.83,271.4 L244.83,268 L236,268 L236,265.9 L227.17,265.9 L227.17,265.2 L218.33,265.2 L218.33,263.8 L209.5,263.8 L209.5,263.3 L200.67,263.3 L200.67,263.3 L191.83,263.3 L191.83,261.4 L183,261.4 L183,261.4 L174.17,261.4 L174.17,261.4 L165.33,261.4 L165.33,261.4 L156.5,261.4 L156.5,261.4 L147.67,261.4 L147.67,263.3 L138.83,263.3 L138.83,259.4 L130,259.4 L130,259.4 L121.17,259.4 L121.17,259.4 L112.33,259.4 L112.33,259 L103.5,259 L103.5,259 L94.67,259 L94.67,259 L85.83,259 L85.83,259 L77,259 L77,259 L68.17,259 L68.17,259.4 L59.33,259.4 L59.33,261.4 L50.5,261.4 Z" fill="#aaaaaa"/>
<line x1="54.92" y1="260.6" x2="54.92" y2="265.6" stroke="#000" stroke-width="1.1"/>
<circle cx="54.92" cy="263.1" r="2.55" fill="#000"/>
<line x1="63.75" y1="259.1" x2="63.75" y2="263.1" stroke="#000" stroke-width="1.1"/>
<circle cx="63.75" cy="261.1" r="2.55" fill="#000"/>
<line x1="72.58" y1="258" x2="72.58" y2="262" stroke="#000" stroke-width="1.1"/>
<circle cx="72.58" cy="260" r="2.55" fill="#000"/>
<line x1="81.42" y1="255" x2="81.42" y2="258.6" stroke="#000" stroke-width="1.1"/>
<circle cx="81.42" cy="256.8" r="2.55" fill="#000"/>
<line x1="90.25" y1="255" x2="90.25" y2="258.6" stroke="#000" stroke-width="1.1"/>
<circle cx="90.25" cy="256.8" r="2.55" fill="#000"/>
<line x1="99.08" y1="255.7" x2="99.08" y2="259.7" stroke="#000" stroke-width="1.1"/>
<circle cx="99.08" cy="257.7" r="2.55" fill="#000"/>
<line x1="107.92" y1="254.6" x2="107.92" y2="259" stroke="#000" stroke-width="1.1"/>
<circle cx="107.92" cy="256.8" r="2.55" fill="#000"/>
<line x1="116.75" y1="257.3" x2="116.75" y2="262.3" stroke="#000" stroke-width="1.1"/>
<circle cx="116.75" cy="259.8" r="2.55" fill="#000"/>
<line x1="125.58" y1="256.3" x2="125.58" y2="261.7" stroke="#000" stroke-width="1.1"/>
<circle cx="125.58" cy="259" r="2.55" fill="#000"/>
<line x1="134.42" y1="253.8" x2="134.42" y2="259.8" stroke="#000" stroke-width="1.1"/>
<circle cx="134.42" cy="256.8" r="2.55" fill="#000"/>
<line x1="143.25" y1="259" x2="143.25" y2="265.8" stroke="#000" stroke-width="1.1"/>
<circle cx="143.25" cy="262.4" r="2.55" fill="#000"/>
<line x1="152.08" y1="248.9" x2="152.08" y2="254.8" stroke="#000" stroke-width="1.1"/>
<circle cx="152.08" cy="251.9" r="2.55" fill="#000"/>
<line x1="160.92" y1="255.9" x2="160.92" y2="262.9" stroke="#000" stroke-width="1.1"/>
<circle cx="160.92" cy="259.4" r="2.55" fill="#000"/>
<line x1="169.75" y1="248.6" x2="169.75" y2="256.6" stroke="#000" stroke-width="1.1"/>
<circle cx="169.75" cy="252.6" r="2.55" fill="#000"/>
<line x1="178.58" y1="258.2" x2="178.58" y2="267.2" stroke="#000" stroke-width="1.1"/>
<circle cx="178.58" cy="262.7" r="2.55" fill="#000"/>
<line x1="187.42" y1="246.9" x2="187.42" y2="256.9" stroke="#000" stroke-width="1.1"/>
<circle cx="187.42" cy="251.9" r="2.55" fill="#000"/>
<line x1="196.25" y1="256.7" x2="196.25" y2="268.7" stroke="#000" stroke-width="1.1"/>
<circle cx="196.25" cy="262.7" r="2.55" fill="#000"/>
<line x1="205.08" y1="242.3" x2="205.08" y2="262.7" stroke="#000" stroke-width="1.1"/>
<circle cx="205.08" cy="251.9" r="2.55" fill="#000"/>
<line x1="213.92" y1="254.1" x2="213.92" y2="271.9" stroke="#000" stroke-width="1.1"/>
<circle cx="213.92" cy="263.1" r="2.55" fill="#000"/>
<line x1="222.75" y1="255.4" x2="222.75" y2="274.5" stroke="#000" stroke-width="1.1"/>
<circle cx="222.75" cy="264" r="2.55" fill="#000"/>
<line x1="231.58" y1="268" x2="231.58" y2="288.7" stroke="#000" stroke-width="1.1"/>
<circle cx="231.58" cy="277.6" r="2.55" fill="#000"/>
<line x1="240.42" y1="279" x2="240.42" y2="293.5" stroke="#000" stroke-width="1.1"/>
<circle cx="240.42" cy="289.8" r="2.55" fill="#000"/>
<line x1="249.25" y1="221.5" x2="249.25" y2="252.7" stroke="#000" stroke-width="1.1"/>
<line x1="258.08" y1="257.5" x2="258.08" y2="291.5" stroke="#000" stroke-width="1.1"/>
<circle cx="258.08" cy="278" r="2.55" fill="#000"/>
<line x1="266.92" y1="256.8" x2="266.92" y2="293.5" stroke="#000" stroke-width="1.1"/>
<circle cx="266.92" cy="286" r="2.55" fill="#000"/>
<line x1="275.75" y1="252" x2="275.75" y2="293.5" stroke="#000" stroke-width="1.1"/>
<circle cx="275.75" cy="284.3" r="2.55" fill="#000"/>
<line x1="284.58" y1="221.5" x2="284.58" y2="248.8" stroke="#000" stroke-width="1.1"/>
<line x1="293.42" y1="233" x2="293.42" y2="293.5" stroke="#000" stroke-width="1.1"/>
<circle cx="293.42" cy="260.3" r="2.55" fill="#000"/>
</g>
<rect x="50.5" y="15.5" width="265" height="203" stroke="#000" stroke-width="1" fill="none"/>
<rect x="50.5" y="221.5" width="265" height="72" stroke="#000" stroke-width="1" fill="none"/>
<path d="M58.78,218.5 v-4 M58.78,15.5 v4 M58.78,293.5 v-3.3 M58.78,221.5 v3.3 M67.06,218.5 v-8 M67.06,15.5 v8 M67.06,293.5 v-6.5 M67.06,221.5 v6.5 M75.34,218.5 v-4 M75.34,15.5 v4 M75.34,293.5 v-3.3 M75.34,221.5 v3.3 M83.62,218.5 v-4 M83.62,15.5 v4 M83.62,293.5 v-3.3 M83.62,221.5 v3.3 M91.91,218.5 v-4 M91.91,15.5 v4 M91.91,293.5 v-3.3 M91.91,221.5 v3.3 M100.19,218.5 v-4 M100.19,15.5 v4 M100.19,293.5 v-3.3 M100.19,221.5 v3.3 M108.47,218.5 v-8 M108.47,15.5 v8 M108.47,293.5 v-6.5 M108.47,221.5 v6.5 M116.75,218.5 v-4 M116.75,15.5 v4 M116.75,293.5 v-3.3 M116.75,221.5 v3.3 M125.03,218.5 v-4 M125.03,15.5 v4 M125.03,293.5 v-3.3 M125.03,221.5 v3.3 M133.31,218.5 v-4 M133.31,15.5 v4 M133.31,293.5 v-3.3 M133.31,221.5 v3.3 M141.59,218.5 v-4 M141.59,15.5 v4 M141.59,293.5 v-3.3 M141.59,221.5 v3.3 M149.88,218.5 v-8 M149.88,15.5 v8 M149.88,293.5 v-6.5 M149.88,221.5 v6.5 M158.16,218.5 v-4 M158.16,15.5 v4 M158.16,293.5 v-3.3 M158.16,221.5 v3.3 M166.44,218.5 v-4 M166.44,15.5 v4 M166.44,293.5 v-3.3 M166.44,221.5 v3.3 M174.72,218.5 v-4 M174.72,15.5 v4 M174.72,293.5 v-3.3 M174.72,221.5 v3.3 M183,218.5 v-4 M183,15.5 v4 M183,293.5 v-3.3 M183,221.5 v3.3 M191.28,218.5 v-8 M191.28,15.5 v8 M191.28,293.5 v-6.5 M191.28,221.5 v6.5 M199.56,218.5 v-4 M199.56,15.5 v4 M199.56,293.5 v-3.3 M199.56,221.5 v3.3 M207.84,218.5 v-4 M207.84,15.5 v4 M207.84,293.5 v-3.3 M207.84,221.5 v3.3 M216.12,218.5 v-4 M216.12,15.5 v4 M216.12,293.5 v-3.3 M216.12,221.5 v3.3 M224.41,218.5 v-4 M224.41,15.5 v4 M224.41,293.5 v-3.3 M224.41,221.5 v3.3 M232.69,218.5 v-8 M232.69,15.5 v8 M232.69,293.5 v-6.5 M232.69,221.5 v6.5 M240.97,218.5 v-4 M240.97,15.5 v4 M240.97,293.5 v-3.3 M240.97,221.5 v3.3 M249.25,218.5 v-4 M249.25,15.5 v4 M249.25,293.5 v-3.3 M249.25,221.5 v3.3 M257.53,218.5 v-4 M257.53,15.5 v4 M257.53,293.5 v-3.3 M257.53,221.5 v3.3 M265.81,218.5 v-4 M265.81,15.5 v4 M265.81,293.5 v-3.3 M265.81,221.5 v3.3 M274.09,218.5 v-8 M274.09,15.5 v8 M274.09,293.5 v-6.5 M274.09,221.5 v6.5 M282.38,218.5 v-4 M282.38,15.5 v4 M282.38,293.5 v-3.3 M282.38,221.5 v3.3 M290.66,218.5 v-4 M290.66,15.5 v4 M290.66,293.5 v-3.3 M290.66,221.5 v3.3 M298.94,218.5 v-4 M298.94,15.5 v4 M298.94,293.5 v-3.3 M298.94,221.5 v3.3 M307.22,218.5 v-4 M307.22,15.5 v4 M307.22,293.5 v-3.3 M307.22,221.5 v3.3 M50.5,208.95 h3.3 M315.5,208.95 h-3.3 M50.5,199.6 h3.3 M315.5,199.6 h-3.3 M50.5,190.25 h3.3 M315.5,190.25 h-3.3 M50.5,180.9 h6.5 M315.5,180.9 h-6.5 M50.5,171.55 h3.3 M315.5,171.55 h-3.3 M50.5,162.2 h3.3 M315.5,162.2 h-3.3 M50.5,152.85 h3.3 M315.5,152.85 h-3.3 M50.5,143.5 h6.5 M315.5,143.5 h-6.5 M50.5,134.15 h3.3 M315.5,134.15 h-3.3 M50.5,124.8 h3.3 M315.5,124.8 h-3.3 M50.5,115.45 h3.3 M315.5,115.45 h-3.3 M50.5,106.1 h6.5 M315.5,106.1 h-6.5 M50.5,96.75 h3.3 M315.5,96.75 h-3.3 M50.5,87.4 h3.3 M315.5,87.4 h-3.3 M50.5,78.05 h3.3 M315.5,78.05 h-3.3 M50.5,68.7 h6.5 M315.5,68.7 h-6.5 M50.5,59.35 h3.3 M315.5,59.35 h-3.3 M50.5,50 h3.3 M315.5,50 h-3.3 M50.5,40.65 h3.3 M315.5,40.65 h-3.3 M50.5,31.3 h6.5 M315.5,31.3 h-6.5 M50.5,21.95 h3.3 M315.5,21.95 h-3.3 M50.5,288.55 h2.2 M315.5,288.55 h-2.2 M50.5,283.4 h4.3 M315.5,283.4 h-4.3 M50.5,278.25 h2.2 M315.5,278.25 h-2.2 M50.5,273.1 h2.2 M315.5,273.1 h-2.2 M50.5,267.95 h2.2 M315.5,267.95 h-2.2 M50.5,262.8 h2.2 M315.5,262.8 h-2.2 M50.5,257.65 h4.3 M315.5,257.65 h-4.3 M50.5,252.5 h2.2 M315.5,252.5 h-2.2 M50.5,247.35 h2.2 M315.5,247.35 h-2.2 M50.5,242.2 h2.2 M315.5,242.2 h-2.2 M50.5,237.05 h2.2 M315.5,237.05 h-2.2 M50.5,231.9 h4.3 M315.5,231.9 h-4.3 M50.5,226.75 h2.2 M315.5,226.75 h-2.2" stroke="#000" stroke-width="1" fill="none"/>
<text x="67.06" y="311" font-size="12.1" text-anchor="middle" font-family="Liberation Sans, sans-serif">500</text>
<text x="108.47" y="311" font-size="12.1" text-anchor="middle" font-family="Liberation Sans, sans-serif">1000</text>
<text x="149.88" y="311" font-size="12.1" text-anchor="middle" font-family="Liberation Sans, sans-serif">1500</text>
<text x="191.28" y="311" font-size="12.1" text-anchor="middle" font-family="Liberation Sans, sans-serif">2000</text>
<text x="232.69" y="311" font-size="12.1" text-anchor="middle" font-family="Liberation Sans, sans-serif">2500</text>
<text x="274.09" y="311" font-size="12.1" text-anchor="middle" font-family="Liberation Sans, sans-serif">3000</text>
<text x="315.5" y="311" font-size="12.1" text-anchor="middle" font-family="Liberation Sans, sans-serif">3500</text>
<text x="42.6" y="185.25" font-size="12.1" text-anchor="end" font-family="Liberation Sans, sans-serif">20</text>
<text x="42.6" y="147.85" font-size="12.1" text-anchor="end" font-family="Liberation Sans, sans-serif">40</text>
<text x="42.6" y="110.45" font-size="12.1" text-anchor="end" font-family="Liberation Sans, sans-serif">60</text>
<text x="42.6" y="73.05" font-size="12.1" text-anchor="end" font-family="Liberation Sans, sans-serif">80</text>
<text x="42.6" y="35.65" font-size="12.1" text-anchor="end" font-family="Liberation Sans, sans-serif">100</text>
<text x="42.6" y="287.75" font-size="12.1" text-anchor="end" font-family="Liberation Sans, sans-serif">0.5</text>
<text x="42.6" y="262" font-size="12.1" text-anchor="end" font-family="Liberation Sans, sans-serif">1</text>
<text x="42.6" y="236.25" font-size="12.1" text-anchor="end" font-family="Liberation Sans, sans-serif">1.5</text>
<text transform="translate(13,15.3) rotate(-90)" font-size="14.3" text-anchor="end" font-family="Liberation Sans, sans-serif">Events / GeV</text>
<text transform="translate(13,218.7) rotate(-90)" font-size="14.3" text-anchor="end" font-family="Liberation Sans, sans-serif">Data / Bkg</text>
<text x="322.7" y="332" font-size="14.3" text-anchor="end" font-family="Liberation Sans, sans-serif"><tspan font-style="italic" font-size="15.4">m</tspan><tspan font-size="9.6" dy="3.5">reco</tspan><tspan dy="-3.5"> [GeV]</tspan></text>
<text x="315.6" y="12.1" font-size="12.5" word-spacing="0.6" text-anchor="end" font-family="Liberation Sans, sans-serif">35.9 fb<tspan font-size="8.5" dy="-4.8">-1</tspan><tspan dy="4.8"> (13 TeV)</tspan></text>
<text x="68.4" y="39.2" font-size="15.7" letter-spacing="0.25" font-weight="bold" font-family="Liberation Sans, sans-serif">CMS</text>
<path d="M69.4,48.9 V54.5 Q69.5,55.8 71.1,55.8 Q72.7,55.8 73.5,54.3 M73.5,48.9 V54.6 Q73.6,55.8 74.5,55.6 Q75.1,55.4 75.6,54.6 M69.4,54.4 Q69.3,56.6 68.7,57.9" fill="none" stroke="#000" stroke-width="1.15"/>
<text x="79.3" y="55.5" font-size="13.75" font-family="Liberation Sans, sans-serif">channel</text>
<g transform="translate(0,0)"><path d="M210.6,32.3 Q211.2,30.8 212.1,31.7 L216.1,39.6 Q216.8,40.7 217.9,39.3" fill="none" stroke="#000" stroke-width="1.3"/><path d="M216.9,31.1 L211.1,40.7" fill="none" stroke="#000" stroke-width="0.95"/>
<text x="217.6" y="33.9" font-size="9.2" font-family="Liberation Sans, sans-serif">2</text>
<text x="226.6" y="37.7" font-size="13.55" font-family="Liberation Sans, sans-serif">categories</text></g>
<line x1="156.45" y1="47.9" x2="156.45" y2="57.1" stroke="#000" stroke-width="1.1"/>
<circle cx="156.45" cy="52.4" r="2.85" fill="#000"/>
<rect x="145.1" y="61.95" width="22.2" height="11.3" fill="#339933"/>
<rect x="145.1" y="77.15" width="22.2" height="11.3" fill="#ff3300"/>
<rect x="145.1" y="92.35" width="22.2" height="11.3" fill="#ffcc00"/>
<rect x="145.1" y="107.55" width="22.2" height="11.3" fill="#ff00ff"/>
<rect x="145.1" y="122.65" width="22.2" height="11.3" fill="#0033ff"/>
<line x1="145.1" y1="142.8" x2="167.3" y2="142.8" stroke="#33ff33" stroke-width="1.2"/>
<line x1="145.1" y1="158.5" x2="167.3" y2="158.5" stroke="#cccccc" stroke-width="1.2"/>
<text x="171.5" y="55.5" font-size="10.0" font-family="Liberation Sans, sans-serif">Data</text>
<text x="171.5" y="71.1" font-size="10.0" font-family="Liberation Sans, sans-serif">W+jets</text>
<text x="171.5" y="86.3" font-size="10.0" font-family="Liberation Sans, sans-serif">tt</text>
<text x="171.5" y="101.5" font-size="10.0" font-family="Liberation Sans, sans-serif">Single t</text>
<text x="171.5" y="116.7" font-size="10.0" font-family="Liberation Sans, sans-serif">Z+jets</text>
<text x="171.5" y="131.8" font-size="10.0" font-family="Liberation Sans, sans-serif">QCD</text>
<line x1="173.9" y1="77.8" x2="176.9" y2="77.8" stroke="#000" stroke-width="0.9"/>
<text x="171.5" y="146.2" font-size="10.0" word-spacing="0.5" font-family="Liberation Sans, sans-serif">B+b, <tspan font-style="italic">m</tspan><tspan font-size="7" dy="2.8">B</tspan><tspan dy="-2.8"> = 1100 GeV, RH</tspan></text>
<text x="171.5" y="161.9" font-size="10.0" word-spacing="0.5" font-family="Liberation Sans, sans-serif">B+b, <tspan font-style="italic">m</tspan><tspan font-size="7" dy="2.8">B</tspan><tspan dy="-2.8"> = 1700 GeV, RH</tspan></text>
</g>
<g transform="translate(0,354)">
<path d="M50.5,218.3 L50.5,218.3 L59.33,218.3 L59.33,218.3 L68.17,218.3 L68.17,218.3 L77,218.3 L77,214 L85.83,214 L85.83,162.5 L94.67,162.5 L94.67,110.8 L103.5,110.8 L103.5,116.6 L112.33,116.6 L112.33,137.9 L121.17,137.9 L121.17,160.2 L130,160.2 L130,178.1 L138.83,178.1 L138.83,186.4 L147.67,186.4 L147.67,197.5 L156.5,197.5 L156.5,201.8 L165.33,201.8 L165.33,206.6 L174.17,206.6 L174.17,210 L183,210 L183,211.9 L191.83,211.9 L191.83,213.4 L200.67,213.4 L200.67,214.4 L209.5,214.4 L209.5,215.4 L218.33,215.4 L218.33,215.9 L227.17,215.9 L227.17,216.4 L236,216.4 L236,216.9 L244.83,216.9 L244.83,217.1 L253.67,217.1 L253.67,217.3 L262.5,217.3 L262.5,217.5 L271.33,217.5 L271.33,217.6 L280.17,217.6 L280.17,217.7 L289,217.7 L289,217.8 L297.83,217.8 L297.83,218.3 L306.67,218.3 L306.67,218.3 L315.5,218.3 L315.5,218.3" fill="#339933"/>
<path d="M50.5,218.3 L50.5,218.3 L59.33,218.3 L59.33,218.3 L68.17,218.3 L68.17,218.3 L77,218.3 L77,214 L85.83,214 L85.83,164.3 L94.67,164.3 L94.67,116.6 L103.5,116.6 L103.5,121.8 L112.33,121.8 L112.33,144.8 L121.17,144.8 L121.17,162.3 L130,162.3 L130,179.4 L138.83,179.4 L138.83,188.7 L147.67,188.7 L147.67,197.9 L156.5,197.9 L156.5,202 L165.33,202 L165.33,206.8 L174.17,206.8 L174.17,210.2 L183,210.2 L183,212 L191.83,212 L191.83,213.5 L200.67,213.5 L200.67,214.5 L209.5,214.5 L209.5,215.5 L218.33,215.5 L218.33,216 L227.17,216 L227.17,216.5 L236,216.5 L236,217 L244.83,217 L244.83,217.2 L253.67,217.2 L253.67,217.4 L262.5,217.4 L262.5,217.6 L271.33,217.6 L271.33,217.7 L280.17,217.7 L280.17,217.8 L289,217.8 L289,217.9 L297.83,217.9 L297.83,218.3 L306.67,218.3 L306.67,218.3 L315.5,218.3 L315.5,218.3" fill="#ff3300"/>
<path d="M50.5,218.3 L50.5,218.3 L59.33,218.3 L59.33,218.3 L68.17,218.3 L68.17,218.3 L77,218.3 L77,215 L85.83,215 L85.83,214.9 L94.67,214.9 L94.67,209.8 L103.5,209.8 L103.5,210.9 L112.33,210.9 L112.33,210.9 L121.17,210.9 L121.17,212 L130,212 L130,215 L138.83,215 L138.83,215.8 L147.67,215.8 L147.67,216 L156.5,216 L156.5,216.2 L165.33,216.2 L165.33,216.3 L174.17,216.3 L174.17,216.5 L183,216.5 L183,216.7 L191.83,216.7 L191.83,216.9 L200.67,216.9 L200.67,217.9 L209.5,217.9 L209.5,218 L218.33,218 L218.33,218.1 L227.17,218.1 L227.17,218.1 L236,218.1 L236,218.2 L244.83,218.2 L244.83,218.2 L253.67,218.2 L253.67,218.2 L262.5,218.2 L262.5,218.3 L271.33,218.3 L271.33,218.3 L280.17,218.3 L280.17,218.3 L289,218.3 L289,218.3 L297.83,218.3 L297.83,218.3 L306.67,218.3 L306.67,218.3 L315.5,218.3 L315.5,218.3" fill="#ffcc00"/>
<path d="M50.5,218.3 L50.5,218.3 L59.33,218.3 L59.33,218.3 L68.17,218.3 L68.17,218.3 L77,218.3 L77,218.2 L85.83,218.2 L85.83,217.8 L94.67,217.8 L94.67,217.5 L103.5,217.5 L103.5,217 L112.33,217 L112.33,217 L121.17,217 L121.17,217.3 L130,217.3 L130,217.3 L138.83,217.3 L138.83,217.6 L147.67,217.6 L147.67,217.8 L156.5,217.8 L156.5,218 L165.33,218 L165.33,218.1 L174.17,218.1 L174.17,218.1 L183,218.1 L183,218.2 L191.83,218.2 L191.83,218.2 L200.67,218.2 L200.67,218.2 L209.5,218.2 L209.5,218.3 L218.33,218.3 L218.33,218.3 L227.17,218.3 L227.17,218.3 L236,218.3 L236,218.3 L244.83,218.3 L244.83,218.3 L253.67,218.3 L253.67,218.3 L262.5,218.3 L262.5,218.3 L271.33,218.3 L271.33,218.3 L280.17,218.3 L280.17,218.3 L289,218.3 L289,218.3 L297.83,218.3 L297.83,218.3 L306.67,218.3 L306.67,218.3 L315.5,218.3 L315.5,218.3" fill="#ff00ff"/>
<path d="M50.5,218.3 L50.5,218.3 L59.33,218.3 L59.33,218.3 L68.17,218.3 L68.17,218.3 L77,218.3 L77,218.3 L85.83,218.3 L85.83,218 L94.67,218 L94.67,217.8 L103.5,217.8 L103.5,217.5 L112.33,217.5 L112.33,217.5 L121.17,217.5 L121.17,217.7 L130,217.7 L130,217.9 L138.83,217.9 L138.83,218 L147.67,218 L147.67,218.1 L156.5,218.1 L156.5,218.1 L165.33,218.1 L165.33,218.2 L174.17,218.2 L174.17,218.2 L183,218.2 L183,218.2 L191.83,218.2 L191.83,218.3 L200.67,218.3 L200.67,218.3 L209.5,218.3 L209.5,218.3 L218.33,218.3 L218.33,218.3 L227.17,218.3 L227.17,218.3 L236,218.3 L236,218.3 L244.83,218.3 L244.83,218.3 L253.67,218.3 L253.67,218.3 L262.5,218.3 L262.5,218.3 L271.33,218.3 L271.33,218.3 L280.17,218.3 L280.17,218.3 L289,218.3 L289,218.3 L297.83,218.3 L297.83,218.3 L306.67,218.3 L306.67,218.3 L315.5,218.3 L315.5,218.3" fill="#0033ff"/>
<rect x="77" y="212.5" width="8.83" height="3" fill="url(#hatch)"/>
<rect x="85.83" y="145.3" width="8.83" height="34.4" fill="url(#hatch)"/>
<rect x="94.67" y="77.9" width="8.83" height="65.8" fill="url(#hatch)"/>
<rect x="103.5" y="77.9" width="8.83" height="77.4" fill="url(#hatch)"/>
<rect x="112.33" y="115.4" width="8.83" height="45" fill="url(#hatch)"/>
<rect x="121.17" y="143.1" width="8.83" height="34.2" fill="url(#hatch)"/>
<rect x="130" y="165" width="8.83" height="26.2" fill="url(#hatch)"/>
<rect x="138.83" y="176.4" width="8.83" height="20" fill="url(#hatch)"/>
<rect x="147.67" y="192.4" width="8.83" height="10.2" fill="url(#hatch)"/>
<rect x="156.5" y="199.8" width="8.83" height="4" fill="url(#hatch)"/>
<rect x="165.33" y="204.6" width="8.83" height="4" fill="url(#hatch)"/>
<rect x="174.17" y="208.2" width="8.83" height="3.6" fill="url(#hatch)"/>
<rect x="183" y="210.4" width="8.83" height="3" fill="url(#hatch)"/>
<rect x="191.83" y="212.2" width="8.83" height="2.4" fill="url(#hatch)"/>
<rect x="200.67" y="213.4" width="8.83" height="2" fill="url(#hatch)"/>
<rect x="209.5" y="214.4" width="8.83" height="2" fill="url(#hatch)"/>
<rect x="218.33" y="215.1" width="8.83" height="1.6" fill="url(#hatch)"/>
<rect x="227.17" y="215.6" width="8.83" height="1.6" fill="url(#hatch)"/>
<rect x="236" y="216.3" width="8.83" height="1.2" fill="url(#hatch)"/>
<rect x="244.83" y="216.5" width="8.83" height="1.2" fill="url(#hatch)"/>
<rect x="253.67" y="216.7" width="8.83" height="1.2" fill="url(#hatch)"/>
<rect x="262.5" y="217" width="8.83" height="1" fill="url(#hatch)"/>
<rect x="271.33" y="217.1" width="8.83" height="1" fill="url(#hatch)"/>
<rect x="280.17" y="217.2" width="8.83" height="1" fill="url(#hatch)"/>
<rect x="289" y="217.3" width="8.83" height="1" fill="url(#hatch)"/>
<path d="M50.5,218.3 L50.5,218.6 L59.33,218.6 L59.33,218.6 L68.17,218.6 L68.17,218.6 L77,218.6 L77,218.6 L85.83,218.6 L85.83,218.6 L94.67,218.6 L94.67,218.6 L103.5,218.6 L103.5,218.6 L112.33,218.6 L112.33,218.6 L121.17,218.6 L121.17,218.6 L130,218.6 L130,218.6 L138.83,218.6 L138.83,213.4 L147.67,213.4 L147.67,208.9 L156.5,208.9 L156.5,205.2 L165.33,205.2 L165.33,201.3 L174.17,201.3 L174.17,211 L183,211 L183,213 L191.83,213 L191.83,215 L200.67,215 L200.67,216.5 L209.5,216.5 L209.5,218.6 L218.33,218.6 L218.33,218.6 L227.17,218.6 L227.17,218.6 L236,218.6 L236,218.6 L244.83,218.6 L244.83,218.6 L253.67,218.6 L253.67,218.6 L262.5,218.6 L262.5,218.6 L271.33,218.6 L271.33,218.6 L280.17,218.6 L280.17,218.6 L289,218.6 L289,218.6 L297.83,218.6 L297.83,218.6 L306.67,218.6 L306.67,218.6 L315.5,218.6 L315.5,218.3" fill="none" stroke="#cccccc" stroke-width="1.2"/>
<path d="M50.5,218.3 L50.5,218.6 L59.33,218.6 L59.33,218.6 L68.17,218.6 L68.17,218.6 L77,218.6 L77,218.6 L85.83,218.6 L85.83,217 L94.67,217 L94.67,209.2 L103.5,209.2 L103.5,208.9 L112.33,208.9 L112.33,197.5 L121.17,197.5 L121.17,201.6 L130,201.6 L130,214.8 L138.83,214.8 L138.83,216.4 L147.67,216.4 L147.67,218.6 L156.5,218.6 L156.5,218.6 L165.33,218.6 L165.33,218.6 L174.17,218.6 L174.17,218.6 L183,218.6 L183,218.6 L191.83,218.6 L191.83,218.6 L200.67,218.6 L200.67,218.6 L209.5,218.6 L209.5,218.6 L218.33,218.6 L218.33,218.6 L227.17,218.6 L227.17,218.6 L236,218.6 L236,218.6 L244.83,218.6 L244.83,218.6 L253.67,218.6 L253.67,218.6 L262.5,218.6 L262.5,218.6 L271.33,218.6 L271.33,218.6 L280.17,218.6 L280.17,218.6 L289,218.6 L289,218.6 L297.83,218.6 L297.83,218.6 L306.67,218.6 L306.67,218.6 L315.5,218.6 L315.5,218.3" fill="none" stroke="#33ff33" stroke-width="1.2"/>
<circle cx="72.58" cy="218" r="3.35" fill="#000"/>
<circle cx="81.42" cy="215.3" r="3.35" fill="#000"/>
<line x1="90.25" y1="162.1" x2="90.25" y2="171.1" stroke="#000" stroke-width="1.1"/>
<circle cx="90.25" cy="166.6" r="3.35" fill="#000"/>
<line x1="99.08" y1="99" x2="99.08" y2="115" stroke="#000" stroke-width="1.1"/>
<circle cx="99.08" cy="107" r="3.35" fill="#000"/>
<line x1="107.92" y1="79.9" x2="107.92" y2="97.9" stroke="#000" stroke-width="1.1"/>
<circle cx="107.92" cy="88.9" r="3.35" fill="#000"/>
<line x1="116.75" y1="124.2" x2="116.75" y2="138.2" stroke="#000" stroke-width="1.1"/>
<circle cx="116.75" cy="131.2" r="3.35" fill="#000"/>
<line x1="125.58" y1="150.6" x2="125.58" y2="161.6" stroke="#000" stroke-width="1.1"/>
<circle cx="125.58" cy="156.1" r="3.35" fill="#000"/>
<line x1="134.42" y1="174.9" x2="134.42" y2="183.9" stroke="#000" stroke-width="1.1"/>
<circle cx="134.42" cy="179.4" r="3.35" fill="#000"/>
<line x1="143.25" y1="171.9" x2="143.25" y2="180.9" stroke="#000" stroke-width="1.1"/>
<circle cx="143.25" cy="176.4" r="3.35" fill="#000"/>
<line x1="152.08" y1="197.2" x2="152.08" y2="204.2" stroke="#000" stroke-width="1.1"/>
<circle cx="152.08" cy="200.7" r="3.35" fill="#000"/>
<circle cx="160.92" cy="204.4" r="3.35" fill="#000"/>
<circle cx="169.75" cy="209.6" r="3.35" fill="#000"/>
<circle cx="178.58" cy="207.5" r="3.35" fill="#000"/>
<circle cx="187.42" cy="214" r="3.35" fill="#000"/>
<circle cx="196.25" cy="214.9" r="3.35" fill="#000"/>
<circle cx="205.08" cy="214" r="3.35" fill="#000"/>
<circle cx="213.92" cy="217.1" r="3.35" fill="#000"/>
<circle cx="231.58" cy="217.3" r="3.35" fill="#000"/>
<circle cx="240.42" cy="218" r="3.35" fill="#000"/>
<circle cx="249.25" cy="218" r="3.35" fill="#000"/>
<circle cx="258.08" cy="218" r="3.35" fill="#000"/>
<circle cx="275.75" cy="217.3" r="3.35" fill="#000"/>
<g clip-path="url(#clipR)">
<path d="M50.5,221.5 L59.33,221.5 L59.33,222.7 L68.17,222.7 L68.17,221.5 L77,221.5 L77,242 L85.83,242 L85.83,242 L94.67,242 L94.67,242 L103.5,242 L103.5,242 L112.33,242 L112.33,242 L121.17,242 L121.17,242 L130,242 L130,242 L138.83,242 L138.83,242 L147.67,242 L147.67,242 L156.5,242 L156.5,241.5 L165.33,241.5 L165.33,241.5 L174.17,241.5 L174.17,240.5 L183,240.5 L183,240.5 L191.83,240.5 L191.83,240.5 L200.67,240.5 L200.67,239 L209.5,239 L209.5,240.2 L218.33,240.2 L218.33,237.3 L227.17,237.3 L227.17,233.2 L236,233.2 L236,233.2 L244.83,233.2 L244.83,235.5 L253.67,235.5 L253.67,233.2 L262.5,233.2 L262.5,223 L271.33,223 L271.33,223 L280.17,223 L280.17,221.5 L289,221.5 L289,221.5 L297.83,221.5 L297.83,221.5 L306.67,221.5 L306.67,223 L315.5,223 L315.5,289 L306.67,289 L306.67,293.5 L297.83,293.5 L297.83,293.5 L289,293.5 L289,293.5 L280.17,293.5 L280.17,288.4 L271.33,288.4 L271.33,286.7 L262.5,286.7 L262.5,280.5 L253.67,280.5 L253.67,278.1 L244.83,278.1 L244.83,280.5 L236,280.5 L236,276.4 L227.17,276.4 L227.17,275.2 L218.33,275.2 L218.33,275.2 L209.5,275.2 L209.5,275.2 L200.67,275.2 L200.67,274 L191.83,274 L191.83,274 L183,274 L183,274 L174.17,274 L174.17,272.5 L165.33,272.5 L165.33,272.5 L156.5,272.5 L156.5,272.5 L147.67,272.5 L147.67,272.6 L138.83,272.6 L138.83,272.6 L130,272.6 L130,272.6 L121.17,272.6 L121.17,272.7 L112.33,272.7 L112.33,272.7 L103.5,272.7 L103.5,272.7 L94.67,272.7 L94.67,272.9 L85.83,272.9 L85.83,272.9 L77,272.9 L77,293.5 L68.17,293.5 L68.17,292.7 L59.33,292.7 L59.33,293.5 L50.5,293.5 Z" fill="#dcdcdc"/>
<path d="M50.5,221.5 L59.33,221.5 L59.33,226.8 L68.17,226.8 L68.17,221.5 L77,221.5 L77,251.9 L85.83,251.9 L85.83,256 L94.67,256 L94.67,256 L103.5,256 L103.5,255.8 L112.33,255.8 L112.33,255.8 L121.17,255.8 L121.17,255.7 L130,255.7 L130,255.5 L138.83,255.5 L138.83,255.4 L147.67,255.4 L147.67,255.3 L156.5,255.3 L156.5,255.2 L165.33,255.2 L165.33,255 L174.17,255 L174.17,253 L183,253 L183,251.9 L191.83,251.9 L191.83,251.9 L200.67,251.9 L200.67,251.3 L209.5,251.3 L209.5,246 L218.33,246 L218.33,246.6 L227.17,246.6 L227.17,246 L236,246 L236,241.4 L244.83,241.4 L244.83,244.9 L253.67,244.9 L253.67,243.1 L262.5,243.1 L262.5,240 L271.33,240 L271.33,229.3 L280.17,229.3 L280.17,221.5 L289,221.5 L289,221.5 L297.83,221.5 L297.83,221.5 L306.67,221.5 L306.67,231.5 L315.5,231.5 L315.5,283.9 L306.67,283.9 L306.67,293.5 L297.83,293.5 L297.83,293.5 L289,293.5 L289,293.5 L280.17,293.5 L280.17,284.4 L271.33,284.4 L271.33,275.4 L262.5,275.4 L262.5,272.9 L253.67,272.9 L253.67,270.6 L244.83,270.6 L244.83,274.1 L236,274.1 L236,268.2 L227.17,268.2 L227.17,267.6 L218.33,267.6 L218.33,269.4 L209.5,269.4 L209.5,263.5 L200.67,263.5 L200.67,262.4 L191.83,262.4 L191.83,262.4 L183,262.4 L183,262 L174.17,262 L174.17,260.2 L165.33,260.2 L165.33,260 L156.5,260 L156.5,259.8 L147.67,259.8 L147.67,259.7 L138.83,259.7 L138.83,259.6 L130,259.6 L130,259.4 L121.17,259.4 L121.17,259.2 L112.33,259.2 L112.33,259.2 L103.5,259.2 L103.5,259 L94.67,259 L94.67,258.9 L85.83,258.9 L85.83,263.5 L77,263.5 L77,293.5 L68.17,293.5 L68.17,288 L59.33,288 L59.33,293.5 L50.5,293.5 Z" fill="#aaaaaa"/>
<line x1="72.58" y1="221.5" x2="72.58" y2="293.5" stroke="#000" stroke-width="1.1"/>
<line x1="81.42" y1="255.1" x2="81.42" y2="290.4" stroke="#000" stroke-width="1.1"/>
<circle cx="81.42" cy="276.4" r="2.55" fill="#000"/>
<line x1="90.25" y1="255.4" x2="90.25" y2="265.3" stroke="#000" stroke-width="1.1"/>
<circle cx="90.25" cy="260.6" r="2.55" fill="#000"/>
<line x1="99.08" y1="252.5" x2="99.08" y2="259.5" stroke="#000" stroke-width="1.1"/>
<circle cx="99.08" cy="256" r="2.55" fill="#000"/>
<line x1="107.92" y1="239" x2="107.92" y2="247.2" stroke="#000" stroke-width="1.1"/>
<circle cx="107.92" cy="243.5" r="2.55" fill="#000"/>
<line x1="116.75" y1="248.4" x2="116.75" y2="257.7" stroke="#000" stroke-width="1.1"/>
<circle cx="116.75" cy="253" r="2.55" fill="#000"/>
<line x1="125.58" y1="249.5" x2="125.58" y2="258.1" stroke="#000" stroke-width="1.1"/>
<circle cx="125.58" cy="253.8" r="2.55" fill="#000"/>
<line x1="134.42" y1="255.1" x2="134.42" y2="267.6" stroke="#000" stroke-width="1.1"/>
<circle cx="134.42" cy="260.6" r="2.55" fill="#000"/>
<line x1="143.25" y1="233.2" x2="143.25" y2="250.1" stroke="#000" stroke-width="1.1"/>
<circle cx="143.25" cy="241.4" r="2.55" fill="#000"/>
<line x1="152.08" y1="255.4" x2="152.08" y2="273.5" stroke="#000" stroke-width="1.1"/>
<circle cx="152.08" cy="263.9" r="2.55" fill="#000"/>
<line x1="160.92" y1="248.1" x2="160.92" y2="271.1" stroke="#000" stroke-width="1.1"/>
<circle cx="160.92" cy="258.9" r="2.55" fill="#000"/>
<line x1="169.75" y1="249.3" x2="169.75" y2="277" stroke="#000" stroke-width="1.1"/>
<circle cx="169.75" cy="261.8" r="2.55" fill="#000"/>
<line x1="178.58" y1="221.5" x2="178.58" y2="249.3" stroke="#000" stroke-width="1.1"/>
<circle cx="178.58" cy="224.4" r="2.55" fill="#000"/>
<line x1="187.42" y1="243.1" x2="187.42" y2="284" stroke="#000" stroke-width="1.1"/>
<circle cx="187.42" cy="260.9" r="2.55" fill="#000"/>
<line x1="196.25" y1="238.8" x2="196.25" y2="285.2" stroke="#000" stroke-width="1.1"/>
<circle cx="196.25" cy="258.9" r="2.55" fill="#000"/>
<line x1="205.08" y1="221.5" x2="205.08" y2="255.4" stroke="#000" stroke-width="1.1"/>
<line x1="213.92" y1="243.7" x2="213.92" y2="293.5" stroke="#000" stroke-width="1.1"/>
<circle cx="213.92" cy="280.7" r="2.55" fill="#000"/>
<line x1="231.58" y1="221.5" x2="231.58" y2="285.7" stroke="#000" stroke-width="1.1"/>
<circle cx="231.58" cy="231.2" r="2.55" fill="#000"/>
<line x1="240.42" y1="221.5" x2="240.42" y2="293.5" stroke="#000" stroke-width="1.1"/>
<circle cx="240.42" cy="262.7" r="2.55" fill="#000"/>
<line x1="249.25" y1="221.5" x2="249.25" y2="293.5" stroke="#000" stroke-width="1.1"/>
<circle cx="249.25" cy="234.4" r="2.55" fill="#000"/>
<line x1="258.08" y1="221.5" x2="258.08" y2="293.5" stroke="#000" stroke-width="1.1"/>
<line x1="275.75" y1="221.5" x2="275.75" y2="237.9" stroke="#000" stroke-width="1.1"/>
</g>
<rect x="50.5" y="15.5" width="265" height="203" stroke="#000" stroke-width="1" fill="none"/>
<rect x="50.5" y="221.5" width="265" height="72" stroke="#000" stroke-width="1" fill="none"/>
<path d="M58.78,218.5 v-4 M58.78,15.5 v4 M58.78,293.5 v-3.3 M58.78,221.5 v3.3 M67.06,218.5 v-8 M67.06,15.5 v8 M67.06,293.5 v-6.5 M67.06,221.5 v6.5 M75.34,218.5 v-4 M75.34,15.5 v4 M75.34,293.5 v-3.3 M75.34,221.5 v3.3 M83.62,218.5 v-4 M83.62,15.5 v4 M83.62,293.5 v-3.3 M83.62,221.5 v3.3 M91.91,218.5 v-4 M91.91,15.5 v4 M91.91,293.5 v-3.3 M91.91,221.5 v3.3 M100.19,218.5 v-4 M100.19,15.5 v4 M100.19,293.5 v-3.3 M100.19,221.5 v3.3 M108.47,218.5 v-8 M108.47,15.5 v8 M108.47,293.5 v-6.5 M108.47,221.5 v6.5 M116.75,218.5 v-4 M116.75,15.5 v4 M116.75,293.5 v-3.3 M116.75,221.5 v3.3 M125.03,218.5 v-4 M125.03,15.5 v4 M125.03,293.5 v-3.3 M125.03,221.5 v3.3 M133.31,218.5 v-4 M133.31,15.5 v4 M133.31,293.5 v-3.3 M133.31,221.5 v3.3 M141.59,218.5 v-4 M141.59,15.5 v4 M141.59,293.5 v-3.3 M141.59,221.5 v3.3 M149.88,218.5 v-8 M149.88,15.5 v8 M149.88,293.5 v-6.5 M149.88,221.5 v6.5 M158.16,218.5 v-4 M158.16,15.5 v4 M158.16,293.5 v-3.3 M158.16,221.5 v3.3 M166.44,218.5 v-4 M166.44,15.5 v4 M166.44,293.5 v-3.3 M166.44,221.5 v3.3 M174.72,218.5 v-4 M174.72,15.5 v4 M174.72,293.5 v-3.3 M174.72,221.5 v3.3 M183,218.5 v-4 M183,15.5 v4 M183,293.5 v-3.3 M183,221.5 v3.3 M191.28,218.5 v-8 M191.28,15.5 v8 M191.28,293.5 v-6.5 M191.28,221.5 v6.5 M199.56,218.5 v-4 M199.56,15.5 v4 M199.56,293.5 v-3.3 M199.56,221.5 v3.3 M207.84,218.5 v-4 M207.84,15.5 v4 M207.84,293.5 v-3.3 M207.84,221.5 v3.3 M216.12,218.5 v-4 M216.12,15.5 v4 M216.12,293.5 v-3.3 M216.12,221.5 v3.3 M224.41,218.5 v-4 M224.41,15.5 v4 M224.41,293.5 v-3.3 M224.41,221.5 v3.3 M232.69,218.5 v-8 M232.69,15.5 v8 M232.69,293.5 v-6.5 M232.69,221.5 v6.5 M240.97,218.5 v-4 M240.97,15.5 v4 M240.97,293.5 v-3.3 M240.97,221.5 v3.3 M249.25,218.5 v-4 M249.25,15.5 v4 M249.25,293.5 v-3.3 M249.25,221.5 v3.3 M257.53,218.5 v-4 M257.53,15.5 v4 M257.53,293.5 v-3.3 M257.53,221.5 v3.3 M265.81,218.5 v-4 M265.81,15.5 v4 M265.81,293.5 v-3.3 M265.81,221.5 v3.3 M274.09,218.5 v-8 M274.09,15.5 v8 M274.09,293.5 v-6.5 M274.09,221.5 v6.5 M282.38,218.5 v-4 M282.38,15.5 v4 M282.38,293.5 v-3.3 M282.38,221.5 v3.3 M290.66,218.5 v-4 M290.66,15.5 v4 M290.66,293.5 v-3.3 M290.66,221.5 v3.3 M298.94,218.5 v-4 M298.94,15.5 v4 M298.94,293.5 v-3.3 M298.94,221.5 v3.3 M307.22,218.5 v-4 M307.22,15.5 v4 M307.22,293.5 v-3.3 M307.22,221.5 v3.3 M50.5,211.54 h3.3 M315.5,211.54 h-3.3 M50.5,204.78 h3.3 M315.5,204.78 h-3.3 M50.5,198.02 h3.3 M315.5,198.02 h-3.3 M50.5,191.26 h3.3 M315.5,191.26 h-3.3 M50.5,184.5 h6.5 M315.5,184.5 h-6.5 M50.5,177.74 h3.3 M315.5,177.74 h-3.3 M50.5,170.98 h3.3 M315.5,170.98 h-3.3 M50.5,164.22 h3.3 M315.5,164.22 h-3.3 M50.5,157.46 h3.3 M315.5,157.46 h-3.3 M50.5,150.7 h6.5 M315.5,150.7 h-6.5 M50.5,143.94 h3.3 M315.5,143.94 h-3.3 M50.5,137.18 h3.3 M315.5,137.18 h-3.3 M50.5,130.42 h3.3 M315.5,130.42 h-3.3 M50.5,123.66 h3.3 M315.5,123.66 h-3.3 M50.5,116.9 h6.5 M315.5,116.9 h-6.5 M50.5,110.14 h3.3 M315.5,110.14 h-3.3 M50.5,103.38 h3.3 M315.5,103.38 h-3.3 M50.5,96.62 h3.3 M315.5,96.62 h-3.3 M50.5,89.86 h3.3 M315.5,89.86 h-3.3 M50.5,83.1 h6.5 M315.5,83.1 h-6.5 M50.5,76.34 h3.3 M315.5,76.34 h-3.3 M50.5,69.58 h3.3 M315.5,69.58 h-3.3 M50.5,62.82 h3.3 M315.5,62.82 h-3.3 M50.5,56.06 h3.3 M315.5,56.06 h-3.3 M50.5,49.3 h6.5 M315.5,49.3 h-6.5 M50.5,42.54 h3.3 M315.5,42.54 h-3.3 M50.5,35.78 h3.3 M315.5,35.78 h-3.3 M50.5,29.02 h3.3 M315.5,29.02 h-3.3 M50.5,22.26 h3.3 M315.5,22.26 h-3.3 M50.5,288.55 h2.2 M315.5,288.55 h-2.2 M50.5,283.4 h4.3 M315.5,283.4 h-4.3 M50.5,278.25 h2.2 M315.5,278.25 h-2.2 M50.5,273.1 h2.2 M315.5,273.1 h-2.2 M50.5,267.95 h2.2 M315.5,267.95 h-2.2 M50.5,262.8 h2.2 M315.5,262.8 h-2.2 M50.5,257.65 h4.3 M315.5,257.65 h-4.3 M50.5,252.5 h2.2 M315.5,252.5 h-2.2 M50.5,247.35 h2.2 M315.5,247.35 h-2.2 M50.5,242.2 h2.2 M315.5,242.2 h-2.2 M50.5,237.05 h2.2 M315.5,237.05 h-2.2 M50.5,231.9 h4.3 M315.5,231.9 h-4.3 M50.5,226.75 h2.2 M315.5,226.75 h-2.2" stroke="#000" stroke-width="1" fill="none"/>
<text x="67.06" y="311" font-size="12.1" text-anchor="middle" font-family="Liberation Sans, sans-serif">500</text>
<text x="108.47" y="311" font-size="12.1" text-anchor="middle" font-family="Liberation Sans, sans-serif">1000</text>
<text x="149.88" y="311" font-size="12.1" text-anchor="middle" font-family="Liberation Sans, sans-serif">1500</text>
<text x="191.28" y="311" font-size="12.1" text-anchor="middle" font-family="Liberation Sans, sans-serif">2000</text>
<text x="232.69" y="311" font-size="12.1" text-anchor="middle" font-family="Liberation Sans, sans-serif">2500</text>
<text x="274.09" y="311" font-size="12.1" text-anchor="middle" font-family="Liberation Sans, sans-serif">3000</text>
<text x="315.5" y="311" font-size="12.1" text-anchor="middle" font-family="Liberation Sans, sans-serif">3500</text>
<text x="42.6" y="188.85" font-size="12.1" text-anchor="end" font-family="Liberation Sans, sans-serif">0.5</text>
<text x="42.6" y="155.05" font-size="12.1" text-anchor="end" font-family="Liberation Sans, sans-serif">1</text>
<text x="42.6" y="121.25" font-size="12.1" text-anchor="end" font-family="Liberation Sans, sans-serif">1.5</text>
<text x="42.6" y="87.45" font-size="12.1" text-anchor="end" font-family="Liberation Sans, sans-serif">2</text>
<text x="42.6" y="53.65" font-size="12.1" text-anchor="end" font-family="Liberation Sans, sans-serif">2.5</text>
<text x="42.6" y="287.75" font-size="12.1" text-anchor="end" font-family="Liberation Sans, sans-serif">0.5</text>
<text x="42.6" y="262" font-size="12.1" text-anchor="end" font-family="Liberation Sans, sans-serif">1</text>
<text x="42.6" y="236.25" font-size="12.1" text-anchor="end" font-family="Liberation Sans, sans-serif">1.5</text>
<text transform="translate(13,15.3) rotate(-90)" font-size="14.3" text-anchor="end" font-family="Liberation Sans, sans-serif">Events / GeV</text>
<text transform="translate(13,218.7) rotate(-90)" font-size="14.3" text-anchor="end" font-family="Liberation Sans, sans-serif">Data / Bkg</text>
<text x="322.7" y="332" font-size="14.3" text-anchor="end" font-family="Liberation Sans, sans-serif"><tspan font-style="italic" font-size="15.4">m</tspan><tspan font-size="9.6" dy="3.5">reco</tspan><tspan dy="-3.5"> [GeV]</tspan></text>
<text x="315.6" y="12.1" font-size="12.5" word-spacing="0.6" text-anchor="end" font-family="Liberation Sans, sans-serif">35.9 fb<tspan font-size="8.5" dy="-4.8">-1</tspan><tspan dy="4.8"> (13 TeV)</tspan></text>
<text x="68.4" y="39.2" font-size="15.7" letter-spacing="0.25" font-weight="bold" font-family="Liberation Sans, sans-serif">CMS</text>
<text x="67.2" y="55.5" font-size="13.7" font-family="Liberation Sans, sans-serif">e channel</text>
<text x="200" y="36.8" font-size="13.5" font-family="Liberation Sans, sans-serif">t tag category</text>
<line x1="156.45" y1="47.9" x2="156.45" y2="57.1" stroke="#000" stroke-width="1.1"/>
<circle cx="156.45" cy="52.4" r="2.85" fill="#000"/>
<rect x="145.1" y="61.95" width="22.2" height="11.3" fill="#339933"/>
<rect x="145.1" y="77.15" width="22.2" height="11.3" fill="#ff3300"/>
<rect x="145.1" y="92.35" width="22.2" height="11.3" fill="#ffcc00"/>
<rect x="145.1" y="107.55" width="22.2" height="11.3" fill="#ff00ff"/>
<rect x="145.1" y="122.65" width="22.2" height="11.3" fill="#0033ff"/>
<line x1="145.1" y1="142.8" x2="167.3" y2="142.8" stroke="#33ff33" stroke-width="1.2"/>
<line x1="145.1" y1="158.5" x2="167.3" y2="158.5" stroke="#cccccc" stroke-width="1.2"/>
<text x="171.5" y="55.5" font-size="10.0" font-family="Liberation Sans, sans-serif">Data</text>
<text x="171.5" y="71.1" font-size="10.0" font-family="Liberation Sans, sans-serif">W+jets</text>
<text x="171.5" y="86.3" font-size="10.0" font-family="Liberation Sans, sans-serif">tt</text>
<text x="171.5" y="101.5" font-size="10.0" font-family="Liberation Sans, sans-serif">Single t</text>
<text x="171.5" y="116.7" font-size="10.0" font-family="Liberation Sans, sans-serif">Z+jets</text>
<text x="171.5" y="131.8" font-size="10.0" font-family="Liberation Sans, sans-serif">QCD</text>
<line x1="173.9" y1="77.8" x2="176.9" y2="77.8" stroke="#000" stroke-width="0.9"/>
<text x="171.5" y="146.2" font-size="10.0" word-spacing="0.5" font-family="Liberation Sans, sans-serif">B+b, <tspan font-style="italic">m</tspan><tspan font-size="7" dy="2.8">B</tspan><tspan dy="-2.8"> = 1100 GeV, RH</tspan></text>
<text x="171.5" y="161.9" font-size="10.0" word-spacing="0.5" font-family="Liberation Sans, sans-serif">B+b, <tspan font-style="italic">m</tspan><tspan font-size="7" dy="2.8">B</tspan><tspan dy="-2.8"> = 1700 GeV, RH</tspan></text>
</g>
<g transform="translate(356,354)">
<path d="M50.5,218.3 L50.5,215.5 L59.33,215.5 L59.33,199.1 L68.17,199.1 L68.17,147 L77,147 L77,88.4 L85.83,88.4 L85.83,97.8 L94.67,97.8 L94.67,135.1 L103.5,135.1 L103.5,162.2 L112.33,162.2 L112.33,182.3 L121.17,182.3 L121.17,195.1 L130,195.1 L130,203.9 L138.83,203.9 L138.83,209.1 L147.67,209.1 L147.67,212 L156.5,212 L156.5,213.5 L165.33,213.5 L165.33,214.8 L174.17,214.8 L174.17,215.5 L183,215.5 L183,216 L191.83,216 L191.83,217 L200.67,217 L200.67,217 L209.5,217 L209.5,217 L218.33,217 L218.33,217 L227.17,217 L227.17,217 L236,217 L236,217 L244.83,217 L244.83,217 L253.67,217 L253.67,217 L262.5,217 L262.5,217 L271.33,217 L271.33,217 L280.17,217 L280.17,217 L289,217 L289,217 L297.83,217 L297.83,217 L306.67,217 L306.67,217 L315.5,217 L315.5,218.3" fill="#339933"/>
<path d="M50.5,218.3 L50.5,216.3 L59.33,216.3 L59.33,208.5 L68.17,208.5 L68.17,183 L77,183 L77,145.1 L85.83,145.1 L85.83,147.6 L94.67,147.6 L94.67,168.7 L103.5,168.7 L103.5,185.7 L112.33,185.7 L112.33,198 L121.17,198 L121.17,204.5 L130,204.5 L130,209.1 L138.83,209.1 L138.83,212 L147.67,212 L147.67,214.4 L156.5,214.4 L156.5,215.3 L165.33,215.3 L165.33,216 L174.17,216 L174.17,216.5 L183,216.5 L183,216.8 L191.83,216.8 L191.83,217.5 L200.67,217.5 L200.67,217.5 L209.5,217.5 L209.5,217.5 L218.33,217.5 L218.33,217.5 L227.17,217.5 L227.17,217.5 L236,217.5 L236,217.5 L244.83,217.5 L244.83,217.5 L253.67,217.5 L253.67,217.5 L262.5,217.5 L262.5,217.5 L271.33,217.5 L271.33,217.5 L280.17,217.5 L280.17,217.5 L289,217.5 L289,217.5 L297.83,217.5 L297.83,217.5 L306.67,217.5 L306.67,217.5 L315.5,217.5 L315.5,218.3" fill="#ff3300"/>
<path d="M50.5,218.3 L50.5,216.8 L59.33,216.8 L59.33,215 L68.17,215 L68.17,210 L77,210 L77,202.4 L85.83,202.4 L85.83,203.5 L94.67,203.5 L94.67,206.7 L103.5,206.7 L103.5,209.6 L112.33,209.6 L112.33,212 L121.17,212 L121.17,214 L130,214 L130,215.5 L138.83,215.5 L138.83,216.3 L147.67,216.3 L147.67,216.9 L156.5,216.9 L156.5,217.3 L165.33,217.3 L165.33,217.5 L174.17,217.5 L174.17,217.7 L183,217.7 L183,217.8 L191.83,217.8 L191.83,218.1 L200.67,218.1 L200.67,218.1 L209.5,218.1 L209.5,218.1 L218.33,218.1 L218.33,218.1 L227.17,218.1 L227.17,218.1 L236,218.1 L236,218.1 L244.83,218.1 L244.83,218.1 L253.67,218.1 L253.67,218.1 L262.5,218.1 L262.5,218.1 L271.33,218.1 L271.33,218.1 L280.17,218.1 L280.17,218.1 L289,218.1 L289,218.1 L297.83,218.1 L297.83,218.1 L306.67,218.1 L306.67,218.1 L315.5,218.1 L315.5,218.3" fill="#ffcc00"/>
<path d="M50.5,218.3 L50.5,217.3 L59.33,217.3 L59.33,217.3 L68.17,217.3 L68.17,215.5 L77,215.5 L77,212.9 L85.83,212.9 L85.83,213.8 L94.67,213.8 L94.67,214 L103.5,214 L103.5,214.5 L112.33,214.5 L112.33,216 L121.17,216 L121.17,216.6 L130,216.6 L130,217.2 L138.83,217.2 L138.83,217.5 L147.67,217.5 L147.67,217.8 L156.5,217.8 L156.5,217.9 L165.33,217.9 L165.33,218 L174.17,218 L174.17,218.1 L183,218.1 L183,218.1 L191.83,218.1 L191.83,218.3 L200.67,218.3 L200.67,218.3 L209.5,218.3 L209.5,218.3 L218.33,218.3 L218.33,218.3 L227.17,218.3 L227.17,218.3 L236,218.3 L236,218.3 L244.83,218.3 L244.83,218.3 L253.67,218.3 L253.67,218.3 L262.5,218.3 L262.5,218.3 L271.33,218.3 L271.33,218.3 L280.17,218.3 L280.17,218.3 L289,218.3 L289,218.3 L297.83,218.3 L297.83,218.3 L306.67,218.3 L306.67,218.3 L315.5,218.3 L315.5,218.3" fill="#ff00ff"/>
<path d="M50.5,218.3 L50.5,217.8 L59.33,217.8 L59.33,218 L68.17,218 L68.17,217 L77,217 L77,214.9 L85.83,214.9 L85.83,215 L94.67,215 L94.67,215.5 L103.5,215.5 L103.5,216 L112.33,216 L112.33,216.8 L121.17,216.8 L121.17,217.2 L130,217.2 L130,217.6 L138.83,217.6 L138.83,217.8 L147.67,217.8 L147.67,218 L156.5,218 L156.5,218.1 L165.33,218.1 L165.33,218.1 L174.17,218.1 L174.17,218.2 L183,218.2 L183,218.2 L191.83,218.2 L191.83,218.3 L200.67,218.3 L200.67,218.3 L209.5,218.3 L209.5,218.3 L218.33,218.3 L218.33,218.3 L227.17,218.3 L227.17,218.3 L236,218.3 L236,218.3 L244.83,218.3 L244.83,218.3 L253.67,218.3 L253.67,218.3 L262.5,218.3 L262.5,218.3 L271.33,218.3 L271.33,218.3 L280.17,218.3 L280.17,218.3 L289,218.3 L289,218.3 L297.83,218.3 L297.83,218.3 L306.67,218.3 L306.67,218.3 L315.5,218.3 L315.5,218.3" fill="#0033ff"/>
<rect x="50.5" y="214.5" width="8.83" height="2" fill="url(#hatch)"/>
<rect x="59.33" y="195.5" width="8.83" height="7.2" fill="url(#hatch)"/>
<rect x="68.17" y="131" width="8.83" height="32" fill="url(#hatch)"/>
<rect x="77" y="60.4" width="8.83" height="56" fill="url(#hatch)"/>
<rect x="85.83" y="71.4" width="8.83" height="52.8" fill="url(#hatch)"/>
<rect x="94.67" y="116.8" width="8.83" height="36.6" fill="url(#hatch)"/>
<rect x="103.5" y="150.2" width="8.83" height="24" fill="url(#hatch)"/>
<rect x="112.33" y="174.7" width="8.83" height="15.2" fill="url(#hatch)"/>
<rect x="121.17" y="190.6" width="8.83" height="9" fill="url(#hatch)"/>
<rect x="130" y="200.9" width="8.83" height="6" fill="url(#hatch)"/>
<rect x="138.83" y="207.1" width="8.83" height="4" fill="url(#hatch)"/>
<rect x="147.67" y="210.5" width="8.83" height="3" fill="url(#hatch)"/>
<rect x="156.5" y="212.3" width="8.83" height="2.4" fill="url(#hatch)"/>
<rect x="165.33" y="213.8" width="8.83" height="2" fill="url(#hatch)"/>
<rect x="174.17" y="214.7" width="8.83" height="1.6" fill="url(#hatch)"/>
<rect x="183" y="215.3" width="8.83" height="1.4" fill="url(#hatch)"/>
<rect x="191.83" y="216.5" width="8.83" height="1" fill="url(#hatch)"/>
<rect x="200.67" y="216.5" width="8.83" height="1" fill="url(#hatch)"/>
<rect x="209.5" y="216.5" width="8.83" height="1" fill="url(#hatch)"/>
<rect x="218.33" y="216.5" width="8.83" height="1" fill="url(#hatch)"/>
<rect x="227.17" y="216.5" width="8.83" height="1" fill="url(#hatch)"/>
<rect x="236" y="216.5" width="8.83" height="1" fill="url(#hatch)"/>
<rect x="244.83" y="216.5" width="8.83" height="1" fill="url(#hatch)"/>
<rect x="253.67" y="216.5" width="8.83" height="1" fill="url(#hatch)"/>
<rect x="262.5" y="216.5" width="8.83" height="1" fill="url(#hatch)"/>
<rect x="271.33" y="216.5" width="8.83" height="1" fill="url(#hatch)"/>
<rect x="280.17" y="216.5" width="8.83" height="1" fill="url(#hatch)"/>
<rect x="289" y="216.5" width="8.83" height="1" fill="url(#hatch)"/>
<rect x="297.83" y="216.5" width="8.83" height="1" fill="url(#hatch)"/>
<rect x="306.67" y="216.5" width="8.83" height="1" fill="url(#hatch)"/>
<path d="M50.5,218.3 L50.5,218.6 L59.33,218.6 L59.33,218.6 L68.17,218.6 L68.17,218.6 L77,218.6 L77,218.6 L85.83,218.6 L85.83,218.6 L94.67,218.6 L94.67,218.6 L103.5,218.6 L103.5,218.6 L112.33,218.6 L112.33,218.6 L121.17,218.6 L121.17,218.6 L130,218.6 L130,218.6 L138.83,218.6 L138.83,218.6 L147.67,218.6 L147.67,214 L156.5,214 L156.5,213.8 L165.33,213.8 L165.33,213.8 L174.17,213.8 L174.17,216 L183,216 L183,218.6 L191.83,218.6 L191.83,218.6 L200.67,218.6 L200.67,218.6 L209.5,218.6 L209.5,218.6 L218.33,218.6 L218.33,218.6 L227.17,218.6 L227.17,218.6 L236,218.6 L236,218.6 L244.83,218.6 L244.83,218.6 L253.67,218.6 L253.67,218.6 L262.5,218.6 L262.5,218.6 L271.33,218.6 L271.33,218.6 L280.17,218.6 L280.17,218.6 L289,218.6 L289,218.6 L297.83,218.6 L297.83,218.6 L306.67,218.6 L306.67,218.6 L315.5,218.6 L315.5,218.3" fill="none" stroke="#cccccc" stroke-width="1.2"/>
<path d="M50.5,218.3 L50.5,218.6 L59.33,218.6 L59.33,218.6 L68.17,218.6 L68.17,218.6 L77,218.6 L77,218.6 L85.83,218.6 L85.83,218.6 L94.67,218.6 L94.67,218.6 L103.5,218.6 L103.5,216 L112.33,216 L112.33,210.3 L121.17,210.3 L121.17,215.5 L130,215.5 L130,217.3 L138.83,217.3 L138.83,218.6 L147.67,218.6 L147.67,218.6 L156.5,218.6 L156.5,218.6 L165.33,218.6 L165.33,218.6 L174.17,218.6 L174.17,218.6 L183,218.6 L183,218.6 L191.83,218.6 L191.83,218.6 L200.67,218.6 L200.67,218.6 L209.5,218.6 L209.5,218.6 L218.33,218.6 L218.33,218.6 L227.17,218.6 L227.17,218.6 L236,218.6 L236,218.6 L244.83,218.6 L244.83,218.6 L253.67,218.6 L253.67,218.6 L262.5,218.6 L262.5,218.6 L271.33,218.6 L271.33,218.6 L280.17,218.6 L280.17,218.6 L289,218.6 L289,218.6 L297.83,218.6 L297.83,218.6 L306.67,218.6 L306.67,218.6 L315.5,218.6 L315.5,218.3" fill="none" stroke="#33ff33" stroke-width="1.2"/>
<circle cx="54.92" cy="215" r="3.35" fill="#000"/>
<circle cx="63.75" cy="201" r="3.35" fill="#000"/>
<circle cx="72.58" cy="151.9" r="3.35" fill="#000"/>
<line x1="81.42" y1="84.2" x2="81.42" y2="92.2" stroke="#000" stroke-width="1.1"/>
<circle cx="81.42" cy="88.2" r="3.35" fill="#000"/>
<line x1="90.25" y1="91.7" x2="90.25" y2="99.7" stroke="#000" stroke-width="1.1"/>
<circle cx="90.25" cy="95.7" r="3.35" fill="#000"/>
<line x1="99.08" y1="127.8" x2="99.08" y2="134.8" stroke="#000" stroke-width="1.1"/>
<circle cx="99.08" cy="131.3" r="3.35" fill="#000"/>
<circle cx="107.92" cy="161.9" r="3.35" fill="#000"/>
<circle cx="116.75" cy="179.5" r="3.35" fill="#000"/>
<circle cx="125.58" cy="192.4" r="3.35" fill="#000"/>
<circle cx="134.42" cy="201" r="3.35" fill="#000"/>
<circle cx="143.25" cy="205.1" r="3.35" fill="#000"/>
<circle cx="152.08" cy="210.3" r="3.35" fill="#000"/>
<circle cx="160.92" cy="213.2" r="3.35" fill="#000"/>
<circle cx="169.75" cy="213.8" r="3.35" fill="#000"/>
<circle cx="178.58" cy="214.7" r="3.35" fill="#000"/>
<circle cx="187.42" cy="215.1" r="3.35" fill="#000"/>
<circle cx="196.25" cy="216.6" r="3.35" fill="#000"/>
<circle cx="205.08" cy="216.6" r="3.35" fill="#000"/>
<circle cx="213.92" cy="216.6" r="3.35" fill="#000"/>
<circle cx="222.75" cy="217.6" r="3.35" fill="#000"/>
<circle cx="231.58" cy="217.6" r="3.35" fill="#000"/>
<circle cx="240.42" cy="217.6" r="3.35" fill="#000"/>
<circle cx="249.25" cy="217.6" r="3.35" fill="#000"/>
<circle cx="258.08" cy="217.6" r="3.35" fill="#000"/>
<circle cx="266.92" cy="217.6" r="3.35" fill="#000"/>
<circle cx="275.75" cy="217.6" r="3.35" fill="#000"/>
<circle cx="293.42" cy="217.6" r="3.35" fill="#000"/>
<circle cx="302.25" cy="217.6" r="3.35" fill="#000"/>
<g clip-path="url(#clipR)">
<path d="M50.5,244.3 L59.33,244.3 L59.33,244.9 L68.17,244.9 L68.17,244.9 L77,244.9 L77,244.9 L85.83,244.9 L85.83,244.9 L94.67,244.9 L94.67,244.9 L103.5,244.9 L103.5,244.9 L112.33,244.9 L112.33,244.9 L121.17,244.9 L121.17,244.9 L130,244.9 L130,244.9 L138.83,244.9 L138.83,244.5 L147.67,244.5 L147.67,244.5 L156.5,244.5 L156.5,244 L165.33,244 L165.33,244 L174.17,244 L174.17,243.5 L183,243.5 L183,243 L191.83,243 L191.83,242.5 L200.67,242.5 L200.67,242.3 L209.5,242.3 L209.5,242.3 L218.33,242.3 L218.33,236.2 L227.17,236.2 L227.17,240.6 L236,240.6 L236,239.9 L244.83,239.9 L244.83,237.7 L253.67,237.7 L253.67,237 L262.5,237 L262.5,237 L271.33,237 L271.33,230.4 L280.17,230.4 L280.17,225.3 L289,225.3 L289,229.7 L297.83,229.7 L297.83,221.5 L306.67,221.5 L306.67,221.5 L315.5,221.5 L315.5,293.5 L306.67,293.5 L306.67,293.5 L297.83,293.5 L297.83,284.4 L289,284.4 L289,286.6 L280.17,286.6 L280.17,283.7 L271.33,283.7 L271.33,275.7 L262.5,275.7 L262.5,275.7 L253.67,275.7 L253.67,275.7 L244.83,275.7 L244.83,274.9 L236,274.9 L236,276.4 L227.17,276.4 L227.17,278.6 L218.33,278.6 L218.33,271.2 L209.5,271.2 L209.5,271.2 L200.67,271.2 L200.67,271.2 L191.83,271.2 L191.83,271 L183,271 L183,270.5 L174.17,270.5 L174.17,270 L165.33,270 L165.33,270 L156.5,270 L156.5,269.5 L147.67,269.5 L147.67,269.5 L138.83,269.5 L138.83,269.2 L130,269.2 L130,269.2 L121.17,269.2 L121.17,269.2 L112.33,269.2 L112.33,269.2 L103.5,269.2 L103.5,269.2 L94.67,269.2 L94.67,269.2 L85.83,269.2 L85.83,269.2 L77,269.2 L77,269.2 L68.17,269.2 L68.17,269.2 L59.33,269.2 L59.33,269.5 L50.5,269.5 Z" fill="#dcdcdc"/>
<path d="M50.5,251.5 L59.33,251.5 L59.33,255.5 L68.17,255.5 L68.17,256.3 L77,256.3 L77,256.3 L85.83,256.3 L85.83,256.3 L94.67,256.3 L94.67,256.3 L103.5,256.3 L103.5,256.3 L112.33,256.3 L112.33,256.3 L121.17,256.3 L121.17,256 L130,256 L130,256.1 L138.83,256.1 L138.83,255.5 L147.67,255.5 L147.67,253.5 L156.5,253.5 L156.5,252.8 L165.33,252.8 L165.33,252.8 L174.17,252.8 L174.17,252.8 L183,252.8 L183,252.8 L191.83,252.8 L191.83,252.8 L200.67,252.8 L200.67,251.5 L209.5,251.5 L209.5,251.5 L218.33,251.5 L218.33,245 L227.17,245 L227.17,249.4 L236,249.4 L236,245.7 L244.83,245.7 L244.83,247.2 L253.67,247.2 L253.67,245.7 L262.5,245.7 L262.5,239.9 L271.33,239.9 L271.33,238.4 L280.17,238.4 L280.17,234.1 L289,234.1 L289,235.5 L297.83,235.5 L297.83,221.5 L306.67,221.5 L306.67,221.5 L315.5,221.5 L315.5,293.5 L306.67,293.5 L306.67,293.5 L297.83,293.5 L297.83,279.3 L289,279.3 L289,280.8 L280.17,280.8 L280.17,277.1 L271.33,277.1 L271.33,274.9 L262.5,274.9 L262.5,270 L253.67,270 L253.67,269.1 L244.83,269.1 L244.83,269.1 L236,269.1 L236,265.4 L227.17,265.4 L227.17,269.9 L218.33,269.9 L218.33,264 L209.5,264 L209.5,264 L200.67,264 L200.67,262.7 L191.83,262.7 L191.83,262.7 L183,262.7 L183,262.7 L174.17,262.7 L174.17,262.7 L165.33,262.7 L165.33,262.7 L156.5,262.7 L156.5,261.4 L147.67,261.4 L147.67,261.4 L138.83,261.4 L138.83,260 L130,260 L130,259.2 L121.17,259.2 L121.17,259 L112.33,259 L112.33,258.9 L103.5,258.9 L103.5,258.7 L94.67,258.7 L94.67,258.7 L85.83,258.7 L85.83,258.7 L77,258.7 L77,258.7 L68.17,258.7 L68.17,258.7 L59.33,258.7 L59.33,263.3 L50.5,263.3 Z" fill="#aaaaaa"/>
<line x1="54.92" y1="263.2" x2="54.92" y2="269.2" stroke="#000" stroke-width="1.1"/>
<circle cx="54.92" cy="266.2" r="2.55" fill="#000"/>
<line x1="63.75" y1="260.2" x2="63.75" y2="265.2" stroke="#000" stroke-width="1.1"/>
<circle cx="63.75" cy="262.7" r="2.55" fill="#000"/>
<line x1="72.58" y1="258.6" x2="72.58" y2="263.6" stroke="#000" stroke-width="1.1"/>
<circle cx="72.58" cy="261.1" r="2.55" fill="#000"/>
<line x1="81.42" y1="255" x2="81.42" y2="259.8" stroke="#000" stroke-width="1.1"/>
<circle cx="81.42" cy="257.4" r="2.55" fill="#000"/>
<line x1="90.25" y1="254.2" x2="90.25" y2="258.8" stroke="#000" stroke-width="1.1"/>
<circle cx="90.25" cy="256.5" r="2.55" fill="#000"/>
<line x1="99.08" y1="253" x2="99.08" y2="258" stroke="#000" stroke-width="1.1"/>
<circle cx="99.08" cy="255.5" r="2.55" fill="#000"/>
<line x1="107.92" y1="254.5" x2="107.92" y2="259.9" stroke="#000" stroke-width="1.1"/>
<circle cx="107.92" cy="257.2" r="2.55" fill="#000"/>
<line x1="116.75" y1="249.8" x2="116.75" y2="255.8" stroke="#000" stroke-width="1.1"/>
<circle cx="116.75" cy="252.8" r="2.55" fill="#000"/>
<line x1="125.58" y1="247.6" x2="125.58" y2="254.2" stroke="#000" stroke-width="1.1"/>
<circle cx="125.58" cy="250.9" r="2.55" fill="#000"/>
<line x1="134.42" y1="250.6" x2="134.42" y2="257.6" stroke="#000" stroke-width="1.1"/>
<circle cx="134.42" cy="254.1" r="2.55" fill="#000"/>
<line x1="143.25" y1="244.3" x2="143.25" y2="251.7" stroke="#000" stroke-width="1.1"/>
<circle cx="143.25" cy="248" r="2.55" fill="#000"/>
<line x1="152.08" y1="253" x2="152.08" y2="261.4" stroke="#000" stroke-width="1.1"/>
<circle cx="152.08" cy="257.2" r="2.55" fill="#000"/>
<line x1="160.92" y1="256.6" x2="160.92" y2="265.6" stroke="#000" stroke-width="1.1"/>
<circle cx="160.92" cy="261.1" r="2.55" fill="#000"/>
<line x1="169.75" y1="245.9" x2="169.75" y2="255.9" stroke="#000" stroke-width="1.1"/>
<circle cx="169.75" cy="250.9" r="2.55" fill="#000"/>
<line x1="178.58" y1="233.5" x2="178.58" y2="250.2" stroke="#000" stroke-width="1.1"/>
<circle cx="178.58" cy="241.4" r="2.55" fill="#000"/>
<line x1="187.42" y1="236.1" x2="187.42" y2="254.8" stroke="#000" stroke-width="1.1"/>
<circle cx="187.42" cy="244.9" r="2.55" fill="#000"/>
<line x1="196.25" y1="253.2" x2="196.25" y2="271.2" stroke="#000" stroke-width="1.1"/>
<circle cx="196.25" cy="262" r="2.55" fill="#000"/>
<line x1="205.08" y1="225.9" x2="205.08" y2="253.5" stroke="#000" stroke-width="1.1"/>
<circle cx="205.08" cy="238.6" r="2.55" fill="#000"/>
<line x1="213.92" y1="221.5" x2="213.92" y2="239.7" stroke="#000" stroke-width="1.1"/>
<circle cx="213.92" cy="224.6" r="2.55" fill="#000"/>
<line x1="222.75" y1="245" x2="222.75" y2="274.9" stroke="#000" stroke-width="1.1"/>
<circle cx="222.75" cy="261.5" r="2.55" fill="#000"/>
<line x1="231.58" y1="251.6" x2="231.58" y2="283.7" stroke="#000" stroke-width="1.1"/>
<circle cx="231.58" cy="270.3" r="2.55" fill="#000"/>
<line x1="240.42" y1="252.3" x2="240.42" y2="293.5" stroke="#000" stroke-width="1.1"/>
<circle cx="240.42" cy="268.4" r="2.55" fill="#000"/>
<line x1="249.25" y1="269.8" x2="249.25" y2="293.5" stroke="#000" stroke-width="1.1"/>
<circle cx="249.25" cy="291.7" r="2.55" fill="#000"/>
<line x1="258.08" y1="221.5" x2="258.08" y2="269.8" stroke="#000" stroke-width="1.1"/>
<circle cx="258.08" cy="239.6" r="2.55" fill="#000"/>
<line x1="266.92" y1="221.5" x2="266.92" y2="281.5" stroke="#000" stroke-width="1.1"/>
<circle cx="266.92" cy="254.2" r="2.55" fill="#000"/>
<line x1="293.42" y1="221.5" x2="293.42" y2="293.5" stroke="#000" stroke-width="1.1"/>
<circle cx="293.42" cy="269.8" r="2.55" fill="#000"/>
<line x1="302.25" y1="221.5" x2="302.25" y2="293.5" stroke="#000" stroke-width="1.1"/>
</g>
<rect x="50.5" y="15.5" width="265" height="203" stroke="#000" stroke-width="1" fill="none"/>
<rect x="50.5" y="221.5" width="265" height="72" stroke="#000" stroke-width="1" fill="none"/>
<path d="M58.78,218.5 v-4 M58.78,15.5 v4 M58.78,293.5 v-3.3 M58.78,221.5 v3.3 M67.06,218.5 v-8 M67.06,15.5 v8 M67.06,293.5 v-6.5 M67.06,221.5 v6.5 M75.34,218.5 v-4 M75.34,15.5 v4 M75.34,293.5 v-3.3 M75.34,221.5 v3.3 M83.62,218.5 v-4 M83.62,15.5 v4 M83.62,293.5 v-3.3 M83.62,221.5 v3.3 M91.91,218.5 v-4 M91.91,15.5 v4 M91.91,293.5 v-3.3 M91.91,221.5 v3.3 M100.19,218.5 v-4 M100.19,15.5 v4 M100.19,293.5 v-3.3 M100.19,221.5 v3.3 M108.47,218.5 v-8 M108.47,15.5 v8 M108.47,293.5 v-6.5 M108.47,221.5 v6.5 M116.75,218.5 v-4 M116.75,15.5 v4 M116.75,293.5 v-3.3 M116.75,221.5 v3.3 M125.03,218.5 v-4 M125.03,15.5 v4 M125.03,293.5 v-3.3 M125.03,221.5 v3.3 M133.31,218.5 v-4 M133.31,15.5 v4 M133.31,293.5 v-3.3 M133.31,221.5 v3.3 M141.59,218.5 v-4 M141.59,15.5 v4 M141.59,293.5 v-3.3 M141.59,221.5 v3.3 M149.88,218.5 v-8 M149.88,15.5 v8 M149.88,293.5 v-6.5 M149.88,221.5 v6.5 M158.16,218.5 v-4 M158.16,15.5 v4 M158.16,293.5 v-3.3 M158.16,221.5 v3.3 M166.44,218.5 v-4 M166.44,15.5 v4 M166.44,293.5 v-3.3 M166.44,221.5 v3.3 M174.72,218.5 v-4 M174.72,15.5 v4 M174.72,293.5 v-3.3 M174.72,221.5 v3.3 M183,218.5 v-4 M183,15.5 v4 M183,293.5 v-3.3 M183,221.5 v3.3 M191.28,218.5 v-8 M191.28,15.5 v8 M191.28,293.5 v-6.5 M191.28,221.5 v6.5 M199.56,218.5 v-4 M199.56,15.5 v4 M199.56,293.5 v-3.3 M199.56,221.5 v3.3 M207.84,218.5 v-4 M207.84,15.5 v4 M207.84,293.5 v-3.3 M207.84,221.5 v3.3 M216.12,218.5 v-4 M216.12,15.5 v4 M216.12,293.5 v-3.3 M216.12,221.5 v3.3 M224.41,218.5 v-4 M224.41,15.5 v4 M224.41,293.5 v-3.3 M224.41,221.5 v3.3 M232.69,218.5 v-8 M232.69,15.5 v8 M232.69,293.5 v-6.5 M232.69,221.5 v6.5 M240.97,218.5 v-4 M240.97,15.5 v4 M240.97,293.5 v-3.3 M240.97,221.5 v3.3 M249.25,218.5 v-4 M249.25,15.5 v4 M249.25,293.5 v-3.3 M249.25,221.5 v3.3 M257.53,218.5 v-4 M257.53,15.5 v4 M257.53,293.5 v-3.3 M257.53,221.5 v3.3 M265.81,218.5 v-4 M265.81,15.5 v4 M265.81,293.5 v-3.3 M265.81,221.5 v3.3 M274.09,218.5 v-8 M274.09,15.5 v8 M274.09,293.5 v-6.5 M274.09,221.5 v6.5 M282.38,218.5 v-4 M282.38,15.5 v4 M282.38,293.5 v-3.3 M282.38,221.5 v3.3 M290.66,218.5 v-4 M290.66,15.5 v4 M290.66,293.5 v-3.3 M290.66,221.5 v3.3 M298.94,218.5 v-4 M298.94,15.5 v4 M298.94,293.5 v-3.3 M298.94,221.5 v3.3 M307.22,218.5 v-4 M307.22,15.5 v4 M307.22,293.5 v-3.3 M307.22,221.5 v3.3 M50.5,212.61 h3.3 M315.5,212.61 h-3.3 M50.5,206.92 h3.3 M315.5,206.92 h-3.3 M50.5,201.23 h3.3 M315.5,201.23 h-3.3 M50.5,195.54 h3.3 M315.5,195.54 h-3.3 M50.5,189.85 h6.5 M315.5,189.85 h-6.5 M50.5,184.16 h3.3 M315.5,184.16 h-3.3 M50.5,178.47 h3.3 M315.5,178.47 h-3.3 M50.5,172.78 h3.3 M315.5,172.78 h-3.3 M50.5,167.09 h3.3 M315.5,167.09 h-3.3 M50.5,161.4 h6.5 M315.5,161.4 h-6.5 M50.5,155.71 h3.3 M315.5,155.71 h-3.3 M50.5,150.02 h3.3 M315.5,150.02 h-3.3 M50.5,144.33 h3.3 M315.5,144.33 h-3.3 M50.5,138.64 h3.3 M315.5,138.64 h-3.3 M50.5,132.95 h6.5 M315.5,132.95 h-6.5 M50.5,127.26 h3.3 M315.5,127.26 h-3.3 M50.5,121.57 h3.3 M315.5,121.57 h-3.3 M50.5,115.88 h3.3 M315.5,115.88 h-3.3 M50.5,110.19 h3.3 M315.5,110.19 h-3.3 M50.5,104.5 h6.5 M315.5,104.5 h-6.5 M50.5,98.81 h3.3 M315.5,98.81 h-3.3 M50.5,93.12 h3.3 M315.5,93.12 h-3.3 M50.5,87.43 h3.3 M315.5,87.43 h-3.3 M50.5,81.74 h3.3 M315.5,81.74 h-3.3 M50.5,76.05 h6.5 M315.5,76.05 h-6.5 M50.5,70.36 h3.3 M315.5,70.36 h-3.3 M50.5,64.67 h3.3 M315.5,64.67 h-3.3 M50.5,58.98 h3.3 M315.5,58.98 h-3.3 M50.5,53.29 h3.3 M315.5,53.29 h-3.3 M50.5,47.6 h6.5 M315.5,47.6 h-6.5 M50.5,41.91 h3.3 M315.5,41.91 h-3.3 M50.5,36.22 h3.3 M315.5,36.22 h-3.3 M50.5,30.53 h3.3 M315.5,30.53 h-3.3 M50.5,24.84 h3.3 M315.5,24.84 h-3.3 M50.5,19.15 h6.5 M315.5,19.15 h-6.5 M50.5,288.55 h2.2 M315.5,288.55 h-2.2 M50.5,283.4 h4.3 M315.5,283.4 h-4.3 M50.5,278.25 h2.2 M315.5,278.25 h-2.2 M50.5,273.1 h2.2 M315.5,273.1 h-2.2 M50.5,267.95 h2.2 M315.5,267.95 h-2.2 M50.5,262.8 h2.2 M315.5,262.8 h-2.2 M50.5,257.65 h4.3 M315.5,257.65 h-4.3 M50.5,252.5 h2.2 M315.5,252.5 h-2.2 M50.5,247.35 h2.2 M315.5,247.35 h-2.2 M50.5,242.2 h2.2 M315.5,242.2 h-2.2 M50.5,237.05 h2.2 M315.5,237.05 h-2.2 M50.5,231.9 h4.3 M315.5,231.9 h-4.3 M50.5,226.75 h2.2 M315.5,226.75 h-2.2" stroke="#000" stroke-width="1" fill="none"/>
<text x="67.06" y="311" font-size="12.1" text-anchor="middle" font-family="Liberation Sans, sans-serif">500</text>
<text x="108.47" y="311" font-size="12.1" text-anchor="middle" font-family="Liberation Sans, sans-serif">1000</text>
<text x="149.88" y="311" font-size="12.1" text-anchor="middle" font-family="Liberation Sans, sans-serif">1500</text>
<text x="191.28" y="311" font-size="12.1" text-anchor="middle" font-family="Liberation Sans, sans-serif">2000</text>
<text x="232.69" y="311" font-size="12.1" text-anchor="middle" font-family="Liberation Sans, sans-serif">2500</text>
<text x="274.09" y="311" font-size="12.1" text-anchor="middle" font-family="Liberation Sans, sans-serif">3000</text>
<text x="315.5" y="311" font-size="12.1" text-anchor="middle" font-family="Liberation Sans, sans-serif">3500</text>
<text x="42.6" y="194.2" font-size="12.1" text-anchor="end" font-family="Liberation Sans, sans-serif">5</text>
<text x="42.6" y="165.75" font-size="12.1" text-anchor="end" font-family="Liberation Sans, sans-serif">10</text>
<text x="42.6" y="137.3" font-size="12.1" text-anchor="end" font-family="Liberation Sans, sans-serif">15</text>
<text x="42.6" y="108.85" font-size="12.1" text-anchor="end" font-family="Liberation Sans, sans-serif">20</text>
<text x="42.6" y="80.4" font-size="12.1" text-anchor="end" font-family="Liberation Sans, sans-serif">25</text>
<text x="42.6" y="51.95" font-size="12.1" text-anchor="end" font-family="Liberation Sans, sans-serif">30</text>
<text x="42.6" y="23.5" font-size="12.1" text-anchor="end" font-family="Liberation Sans, sans-serif">35</text>
<text x="42.6" y="287.75" font-size="12.1" text-anchor="end" font-family="Liberation Sans, sans-serif">0.5</text>
<text x="42.6" y="262" font-size="12.1" text-anchor="end" font-family="Liberation Sans, sans-serif">1</text>
<text x="42.6" y="236.25" font-size="12.1" text-anchor="end" font-family="Liberation Sans, sans-serif">1.5</text>
<text transform="translate(13,15.3) rotate(-90)" font-size="14.3" text-anchor="end" font-family="Liberation Sans, sans-serif">Events / GeV</text>
<text transform="translate(13,218.7) rotate(-90)" font-size="14.3" text-anchor="end" font-family="Liberation Sans, sans-serif">Data / Bkg</text>
<text x="322.7" y="332" font-size="14.3" text-anchor="end" font-family="Liberation Sans, sans-serif"><tspan font-style="italic" font-size="15.4">m</tspan><tspan font-size="9.6" dy="3.5">reco</tspan><tspan dy="-3.5"> [GeV]</tspan></text>
<text x="315.6" y="12.1" font-size="12.5" word-spacing="0.6" text-anchor="end" font-family="Liberation Sans, sans-serif">35.9 fb<tspan font-size="8.5" dy="-4.8">-1</tspan><tspan dy="4.8"> (13 TeV)</tspan></text>
<text x="68.4" y="39.2" font-size="15.7" letter-spacing="0.25" font-weight="bold" font-family="Liberation Sans, sans-serif">CMS</text>
<text x="67.2" y="55.5" font-size="13.7" font-family="Liberation Sans, sans-serif">e channel</text>
<g transform="translate(-10.7,0)"><path d="M210.6,32.3 Q211.2,30.8 212.1,31.7 L216.1,39.6 Q216.8,40.7 217.9,39.3" fill="none" stroke="#000" stroke-width="1.3"/><path d="M216.9,31.1 L211.1,40.7" fill="none" stroke="#000" stroke-width="0.95"/>
<text x="217.6" y="33.9" font-size="9.2" font-family="Liberation Sans, sans-serif">2</text>
<text x="226.6" y="37.7" font-size="13.55" font-family="Liberation Sans, sans-serif">categories</text></g>
<line x1="156.45" y1="47.9" x2="156.45" y2="57.1" stroke="#000" stroke-width="1.1"/>
<circle cx="156.45" cy="52.4" r="2.85" fill="#000"/>
<rect x="145.1" y="61.95" width="22.2" height="11.3" fill="#339933"/>
<rect x="145.1" y="77.15" width="22.2" height="11.3" fill="#ff3300"/>
<rect x="145.1" y="92.35" width="22.2" height="11.3" fill="#ffcc00"/>
<rect x="145.1" y="107.55" width="22.2" height="11.3" fill="#ff00ff"/>
<rect x="145.1" y="122.65" width="22.2" height="11.3" fill="#0033ff"/>
<line x1="145.1" y1="142.8" x2="167.3" y2="142.8" stroke="#33ff33" stroke-width="1.2"/>
<line x1="145.1" y1="158.5" x2="167.3" y2="158.5" stroke="#cccccc" stroke-width="1.2"/>
<text x="171.5" y="55.5" font-size="10.0" font-family="Liberation Sans, sans-serif">Data</text>
<text x="171.5" y="71.1" font-size="10.0" font-family="Liberation Sans, sans-serif">W+jets</text>
<text x="171.5" y="86.3" font-size="10.0" font-family="Liberation Sans, sans-serif">tt</text>
<text x="171.5" y="101.5" font-size="10.0" font-family="Liberation Sans, sans-serif">Single t</text>
<text x="171.5" y="116.7" font-size="10.0" font-family="Liberation Sans, sans-serif">Z+jets</text>
<text x="171.5" y="131.8" font-size="10.0" font-family="Liberation Sans, sans-serif">QCD</text>
<line x1="173.9" y1="77.8" x2="176.9" y2="77.8" stroke="#000" stroke-width="0.9"/>
<text x="171.5" y="146.2" font-size="10.0" word-spacing="0.5" font-family="Liberation Sans, sans-serif">B+b, <tspan font-style="italic">m</tspan><tspan font-size="7" dy="2.8">B</tspan><tspan dy="-2.8"> = 1100 GeV, RH</tspan></text>
<text x="171.5" y="161.9" font-size="10.0" word-spacing="0.5" font-family="Liberation Sans, sans-serif">B+b, <tspan font-style="italic">m</tspan><tspan font-size="7" dy="2.8">B</tspan><tspan dy="-2.8"> = 1700 GeV, RH</tspan></text>
</g>
</svg></body></html>
